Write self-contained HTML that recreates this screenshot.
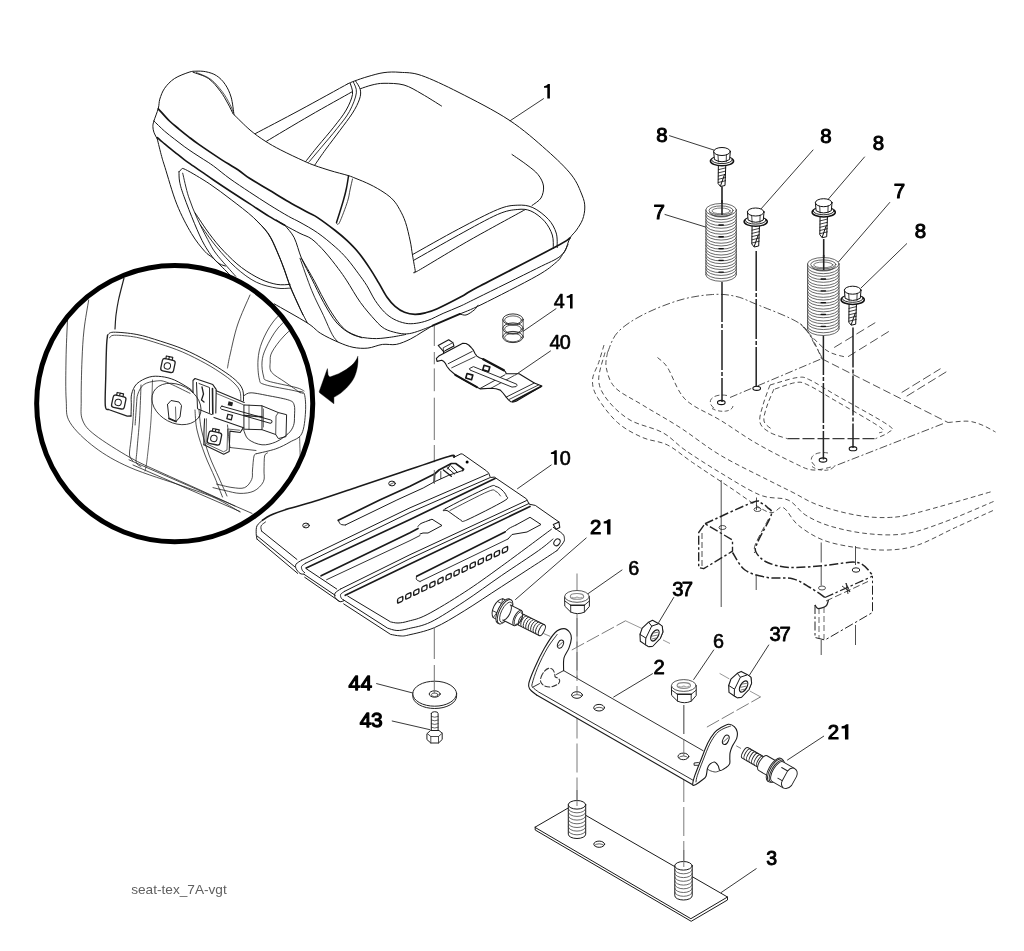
<!DOCTYPE html>
<html><head><meta charset="utf-8"><title>seat-tex_7A-vgt</title>
<style>
html,body{margin:0;padding:0;background:#fff;}
body{width:1024px;height:951px;overflow:hidden;font-family:"Liberation Sans",sans-serif;}
svg{display:block;position:absolute;left:0;top:0;filter:grayscale(1);}
svg text{font-family:"Liberation Sans",sans-serif;fill:#000;stroke:none;}
.b{font-weight:bold;}
</style></head><body>
<svg width="1024" height="951" viewBox="0 0 1024 951" fill="none" stroke="#151515" stroke-width="1" stroke-linecap="round" stroke-linejoin="round">
<g id="seat">
<path d="M157.3 139.0 C156.7 137.9 154.6 134.3 153.9 132.2 C153.2 130.1 152.9 128.3 152.9 126.4 C152.9 124.5 153.0 124.0 153.9 121.0 C154.8 118.0 157.3 112.0 158.3 108.3 C159.3 104.6 158.8 102.4 159.8 99.1 C160.9 95.8 162.2 91.7 164.6 88.3 C167.0 84.9 170.3 81.3 174.4 78.6 C178.5 75.9 185.5 73.4 189.1 72.2 C192.7 71.0 193.1 71.3 195.9 71.2 C198.7 71.1 202.3 71.0 205.7 71.7 C209.1 72.4 213.2 73.5 216.4 75.6 C219.7 77.7 222.8 80.8 225.2 84.4 C227.6 88.0 229.6 92.0 231.1 97.1 C232.6 102.1 233.5 111.8 234.0 114.7" stroke-width="1.0" />
<path d="M193.0 72.2 C195.6 73.3 204.0 75.4 208.6 78.6 C213.2 81.8 217.1 87.0 220.3 91.2 C223.6 95.4 226.0 100.2 228.1 103.9 C230.2 107.7 232.2 112.1 233.0 113.7" stroke-width="1.0" />
<path d="M196.5 72.5 C198.9 73.7 206.7 76.2 211.0 79.5 C215.3 82.8 219.3 87.8 222.5 92.0 C225.7 96.2 228.2 101.1 230.0 104.5 C231.8 107.9 232.9 111.2 233.5 112.5" stroke-width="0.7" />
<path d="M234.0 114.7 C236.7 117.2 244.8 125.6 250.0 130.0 C255.2 134.4 259.9 137.7 265.0 141.0 C270.1 144.3 274.4 146.7 280.8 150.0 C287.2 153.3 297.5 158.1 303.2 160.7 C308.9 163.3 310.5 164.0 315.0 165.6 C319.5 167.2 324.5 168.8 330.0 170.5 C335.5 172.2 343.7 174.2 348.0 175.5 C352.3 176.8 352.3 177.0 356.0 178.5 C359.7 180.0 365.3 182.2 370.0 184.5 C374.7 186.8 380.1 189.9 384.0 192.5 C387.9 195.1 390.6 197.2 393.2 200.0 C395.8 202.8 397.6 205.7 399.6 209.4 C401.7 213.1 403.7 217.0 405.5 222.3 C407.3 227.6 409.0 235.5 410.2 241.0 C411.4 246.5 411.6 250.0 412.5 255.1 C413.4 260.2 414.9 268.8 415.4 271.5" stroke-width="1.0" />
<path d="M348.5 176.0 C348.2 178.0 347.3 184.0 346.5 188.0 C345.7 192.0 345.2 194.2 343.5 200.0 C341.8 205.8 337.7 218.8 336.5 222.5" stroke-width="1.5" />
<path d="M352.5 179.0 C352.1 180.8 350.8 186.2 350.0 190.0 C349.2 193.8 349.2 196.1 347.5 201.5 C345.8 206.9 341.3 218.9 339.5 222.5 C337.7 226.1 337.0 223.1 336.5 223.2" stroke-width="0.8" />
<path d="M158.3 108.8 C160.2 110.8 166.0 117.6 169.5 121.0 C173.0 124.4 176.1 126.6 179.3 129.3 C182.6 132.0 185.8 134.6 189.0 137.1 C192.2 139.6 193.9 141.0 198.8 144.4 C203.7 147.8 211.9 153.4 218.4 157.6 C224.9 161.8 232.7 166.4 237.9 169.8 C243.1 173.2 244.3 174.9 249.5 178.3 C254.7 181.7 262.6 186.1 269.1 190.0 C275.6 193.9 282.1 198.1 288.6 201.8 C295.1 205.6 303.3 209.9 308.1 212.5 C312.9 215.1 313.1 214.6 317.6 217.6 C322.1 220.6 330.3 226.7 335.2 230.5 C340.1 234.3 343.0 236.7 346.9 240.4 C350.8 244.1 354.7 247.9 358.6 252.7 C362.5 257.5 367.0 264.1 370.3 269.1 C373.6 274.1 375.9 278.2 378.7 282.9 C381.5 287.5 384.2 293.1 386.9 297.0 C389.6 300.9 392.2 303.8 395.1 306.3 C398.0 308.8 401.2 310.9 404.5 312.2 C407.8 313.5 411.5 314.2 415.0 314.3 C418.5 314.4 421.8 313.7 425.5 312.8 C429.2 311.9 431.3 311.4 437.3 308.7 C443.3 306.0 454.7 300.1 461.5 296.5 C468.3 292.9 462.5 295.2 478.0 287.0 C493.5 278.8 539.0 255.7 554.3 247.5 C569.6 239.3 567.4 239.6 570.0 238.0" stroke-width="1.7" />
<path d="M153.9 121.0 C155.7 122.7 161.2 128.2 164.6 131.2 C168.0 134.2 171.1 136.4 174.4 139.0 C177.7 141.6 180.9 144.1 184.2 146.5 C187.4 148.9 190.7 151.0 193.9 153.2 C197.2 155.4 200.4 157.4 203.7 159.5 C207.0 161.6 209.1 162.8 213.5 166.0 C217.9 169.2 224.0 174.5 230.0 178.8 C236.0 183.1 243.0 187.7 249.5 192.0 C256.0 196.3 262.6 200.6 269.1 204.7 C275.6 208.8 283.5 213.5 288.6 216.4 C293.8 219.3 295.2 219.6 300.0 222.3 C304.8 225.0 311.7 228.7 317.6 232.8 C323.5 236.9 330.3 242.6 335.2 246.9 C340.1 251.2 343.0 254.1 346.9 258.6 C350.8 263.1 355.3 269.3 358.6 273.8 C361.9 278.3 364.0 281.1 366.8 285.5 C369.6 289.9 372.2 296.1 375.2 300.5 C378.1 304.9 381.4 309.1 384.5 312.2 C387.6 315.3 390.4 317.3 393.9 319.2 C397.4 321.1 401.9 322.6 405.6 323.3 C409.3 324.0 412.5 323.8 416.2 323.3 C419.9 322.8 423.4 322.0 427.9 320.4 C432.4 318.8 437.8 315.8 443.1 313.4 C448.5 311.0 454.2 308.9 460.0 306.3 C465.8 303.7 465.2 303.8 478.0 297.5 C490.8 291.2 523.0 275.4 536.7 268.5 C550.4 261.6 554.8 260.4 560.0 256.4 C565.2 252.4 566.7 246.6 568.0 244.7" stroke-width="1.0" />
<path d="M157.3 137.6 C158.5 138.7 161.8 141.5 164.6 143.9 C167.4 146.3 171.1 149.2 174.4 151.8 C177.7 154.4 180.9 157.2 184.2 159.6 C187.4 162.0 190.7 164.1 193.9 166.4 C197.2 168.7 200.4 170.9 203.7 173.2 C207.0 175.5 209.1 177.0 213.5 180.0 C217.9 183.0 224.0 187.1 230.0 191.0 C236.0 194.9 243.0 199.5 249.5 203.7 C256.0 207.9 263.2 212.8 269.1 216.4 C275.0 220.0 282.1 223.7 284.7 225.2" stroke-width="1.6" />
<path d="M276.5 220.0 C277.9 220.9 280.8 223.0 284.7 225.2 C288.6 227.4 295.5 231.1 300.0 233.4 C304.5 235.7 307.6 236.0 311.8 239.1 C316.0 242.2 320.6 247.1 325.0 252.0 C329.4 256.9 334.7 263.8 338.3 268.6 C341.9 273.4 343.2 275.3 346.9 280.9 C350.6 286.5 355.7 295.9 360.4 302.4 C365.1 308.9 371.1 315.7 375.1 320.1 C379.1 324.5 381.0 326.5 384.5 328.6 C388.0 330.7 392.6 331.8 396.3 332.7 C400.0 333.6 403.3 334.1 406.8 333.9 C410.3 333.7 413.0 332.9 417.3 331.5 C421.6 330.1 430.1 326.7 432.6 325.7" stroke-width="1.0" />
<path d="M255.5 133.5 C262.9 129.6 284.6 118.3 300.0 110.0 C315.4 101.7 340.0 88.1 348.0 83.7" stroke-width="1.0" />
<path d="M266.6 141.2 C273.8 136.9 295.8 123.7 310.0 115.5 C324.2 107.3 344.8 95.9 351.7 92.0" stroke-width="1.0" />
<path d="M348.0 83.7 C349.1 83.2 351.2 82.2 354.5 81.0 C357.8 79.8 363.1 77.9 368.0 76.5 C372.9 75.1 378.7 73.3 384.0 72.6 C389.3 71.9 393.8 71.8 400.0 72.3 C406.2 72.8 411.7 72.1 421.5 75.5 C431.3 78.9 444.4 85.1 459.0 92.5 C473.6 99.9 494.4 110.4 509.0 120.0 C523.6 129.6 536.1 140.8 546.5 150.0 C556.9 159.2 565.6 167.5 571.5 175.0 C577.4 182.5 579.8 189.7 582.0 195.0 C584.2 200.3 584.7 202.9 584.8 207.0 C584.9 211.1 584.0 215.7 582.6 219.5 C581.2 223.3 578.6 226.9 576.5 230.0 C574.4 233.1 571.8 234.7 570.0 238.0 C568.2 241.3 566.8 247.2 565.5 250.0 C564.2 252.8 562.6 254.2 562.0 255.0" stroke-width="1.0" />
<path d="M360.5 88.7 C362.4 88.1 368.1 85.9 372.0 85.0 C375.9 84.1 378.7 83.3 384.0 83.3 C389.3 83.3 397.7 83.2 404.0 85.0 C410.3 86.8 415.8 90.5 422.0 94.0 C428.2 97.5 438.2 104.0 441.5 106.0" stroke-width="1.0" />
<path d="M350.2 83.4 C350.6 85.2 353.2 90.0 352.5 94.4 C351.8 98.8 349.3 104.5 346.2 110.0 C343.1 115.5 338.4 121.2 333.7 127.2 C329.0 133.2 322.8 140.2 318.1 145.9 C313.4 151.6 307.7 159.0 305.6 161.6" stroke-width="1.0" />
<path d="M353.3 81.9 C353.8 83.7 357.0 87.8 356.4 92.8 C355.8 97.8 352.6 105.6 349.4 111.6 C346.1 117.6 341.6 122.7 336.9 128.7 C332.2 134.7 325.9 141.9 321.2 147.5 C316.5 153.1 310.8 159.8 308.7 162.3" stroke-width="0.9" />
<path d="M355.6 81.1 C356.4 82.5 359.7 86.7 360.3 89.7 C360.9 92.7 360.8 95.2 359.5 99.1 C358.2 103.0 355.8 107.9 352.5 113.1 C349.2 118.3 344.4 124.3 340.0 130.3 C335.6 136.3 330.1 143.4 325.9 149.1 C321.7 154.8 316.8 162.1 315.0 164.7" stroke-width="1.0" />
<path d="M512.0 154.5 C514.5 156.2 522.7 161.7 527.0 165.0 C531.3 168.3 535.2 171.0 538.0 174.5 C540.8 178.0 543.0 182.1 543.5 186.0 C544.0 189.9 542.9 194.8 541.0 198.0 C539.1 201.2 533.5 204.2 532.0 205.5" stroke-width="1.0" />
<path d="M412.7 254.5 C420.4 250.2 444.4 236.5 458.6 229.0 C472.8 221.5 487.9 213.5 497.7 209.5 C507.5 205.5 511.4 205.5 517.2 205.2 C523.1 204.9 527.6 205.2 532.8 207.6 C538.0 209.9 544.5 215.1 548.4 219.3 C552.3 223.5 554.7 228.3 556.2 233.0 C557.7 237.7 557.0 245.2 557.2 247.6" stroke-width="1.0" />
<path d="M413.7 260.3 C421.2 256.1 444.6 242.7 458.6 235.0 C472.6 227.3 487.9 218.7 497.7 214.4 C507.5 210.2 511.7 210.1 517.2 209.5 C522.7 208.9 526.4 209.1 530.9 211.0 C535.4 212.9 540.9 217.2 544.5 221.2 C548.1 225.2 550.8 230.4 552.3 235.0 C553.8 239.6 553.1 246.3 553.3 248.6" stroke-width="1.0" />
<path d="M415.6 271.0 C416.1 270.9 409.4 275.7 418.5 270.5 C427.6 265.3 452.2 250.1 470.0 240.0 C487.8 229.9 515.8 214.8 525.0 209.7" stroke-width="1.0" />
<path d="M274.3 303.9 C279.8 307.1 299.7 318.1 307.4 323.0 C315.1 327.9 315.5 330.2 320.7 333.4 C325.9 336.6 332.9 339.9 338.3 342.2 C343.7 344.5 348.1 346.3 353.0 347.3 C357.9 348.3 362.9 348.6 367.8 348.1 C372.7 347.6 377.8 345.0 382.5 344.4 C387.2 343.8 391.7 345.3 396.3 344.4 C400.9 343.5 406.0 341.2 410.3 339.1 C414.6 337.1 418.3 334.3 422.0 332.1 C425.7 329.9 430.8 326.8 432.6 325.7" stroke-width="1.0" />
<path d="M460.0 313.9 C461.0 314.1 463.6 315.6 466.0 315.0 C468.4 314.4 472.2 311.6 474.2 310.0 C476.2 308.4 477.4 306.0 478.0 305.2" stroke-width="1.0" />
<path d="M432.6 325.7 L460.0 313.9" stroke-width="1.8" />
<path d="M460.0 313.9 C463.7 312.3 469.2 310.6 482.0 304.3 C494.8 298.0 524.3 283.0 536.7 276.0 C549.1 269.0 552.0 265.7 556.2 262.3 C560.4 258.9 561.0 256.6 562.0 255.4" stroke-width="1.0" />
<path d="M285.3 225.9 C286.8 227.9 291.5 232.3 294.2 237.7 C296.9 243.1 298.6 251.4 301.5 258.3 C304.4 265.2 308.1 271.5 311.8 278.9 C315.5 286.2 319.4 295.0 323.6 302.4 C327.8 309.8 332.0 317.6 336.9 323.0 C341.8 328.4 347.1 332.2 353.0 334.8 C358.9 337.4 366.2 338.1 372.2 338.5 C378.2 338.9 383.6 338.1 389.2 337.4 C394.8 336.7 402.9 335.0 405.6 334.5" stroke-width="1.0" />
<path d="M255.9 220.0 C258.1 222.4 265.2 228.6 269.1 234.7 C273.0 240.8 276.0 248.5 279.4 256.8 C282.8 265.2 286.3 276.2 289.7 284.8 C293.1 293.4 297.1 301.9 300.0 308.3 C302.9 314.7 306.2 320.6 307.4 323.0" stroke-width="1.0" />
<path d="M301.5 258.3 C303.7 262.2 310.4 273.7 314.8 281.8 C319.2 289.9 323.1 299.0 328.0 306.9 C332.9 314.8 338.6 323.8 344.2 328.9 C349.8 334.0 358.9 336.3 361.9 337.8" stroke-width="1.0" />
<path d="M300.0 258.3 C302.0 263.7 307.9 281.1 311.8 290.7 C315.7 300.3 320.2 308.3 323.6 315.7 C327.0 323.1 329.9 330.4 332.4 334.8 C334.8 339.2 337.3 341.0 338.3 342.2" stroke-width="0.9" />
<path d="M179.0 171.8 C179.4 171.4 180.1 170.0 181.2 169.6 C182.3 169.2 180.9 167.3 185.6 169.6 C190.3 171.9 201.6 178.6 209.2 183.6 C216.8 188.6 223.8 194.1 231.2 199.7 C238.5 205.3 247.2 211.8 253.3 217.4 C259.4 223.1 264.1 227.9 268.0 233.6 C271.9 239.2 274.2 245.4 276.9 251.3 C279.6 257.2 282.0 263.0 284.2 268.9 C286.4 274.8 288.1 281.4 290.1 286.6 C292.1 291.8 293.9 295.3 296.0 300.0 C298.1 304.7 301.8 312.5 303.0 315.0" stroke-width="1.0" />
<path d="M195.2 213.0 C197.5 216.4 204.4 227.2 209.2 233.6 C214.0 240.0 218.5 245.7 223.9 251.3 C229.3 256.9 235.4 262.9 241.5 267.5 C247.6 272.1 254.8 276.4 260.7 279.2 C266.6 282.0 272.0 283.5 276.9 284.4 C281.8 285.3 287.9 284.4 290.1 284.4" stroke-width="1.0" />
<path d="M200.3 224.8 C203.0 228.5 210.6 239.8 216.5 246.9 C222.4 254.0 229.1 261.6 235.7 267.5 C242.3 273.4 249.4 278.8 256.3 282.2 C263.2 285.6 271.3 287.1 276.9 288.1 C282.5 289.1 287.9 288.1 290.1 288.1" stroke-width="0.9" />
<path d="M179.0 171.8 C179.1 173.5 178.8 177.9 179.7 182.1 C180.5 186.3 181.6 189.9 184.1 196.8 C186.6 203.7 191.0 215.2 194.4 223.3 C197.8 231.4 201.0 239.0 204.7 245.4 C208.4 251.8 213.1 258.2 216.5 261.6 C219.9 265.0 223.9 265.3 225.4 266.0" stroke-width="1.0" />
<path d="M182.7 173.2 C183.7 177.1 186.1 189.2 188.6 196.8 C191.1 204.4 194.2 211.8 197.4 218.9 C200.6 226.0 204.5 233.6 207.7 239.5 C210.9 245.4 211.8 248.1 216.5 254.2 C221.2 260.3 232.5 272.6 235.7 276.3" stroke-width="0.9" />
<path d="M157.3 139.0 C158.0 141.9 160.4 151.9 161.7 156.6 C163.0 161.3 162.5 159.5 165.0 167.4 C167.5 175.3 172.4 193.2 176.8 204.2 C181.2 215.2 186.8 225.8 191.5 233.6 C196.2 241.4 201.0 247.1 204.7 251.3 C208.4 255.5 209.4 254.7 213.6 258.6 C217.8 262.6 227.3 272.3 230.0 275.0" stroke-width="1.0" />
</g>
<defs><clipPath id="cc"><circle cx="174.7" cy="403.6" r="136.5"/></clipPath></defs>
<circle cx="174.7" cy="403.6" r="138" fill="#fff" stroke="none"/>
<g id="circ" clip-path="url(#cc)" stroke="#222" stroke-width="0.9">
<path d="M88.7 300.0 C87.9 305.0 85.1 320.0 84.0 330.0 C82.9 340.0 82.5 348.3 82.0 360.0 C81.5 371.7 81.1 390.0 81.2 400.0 C81.3 410.0 80.2 414.2 82.5 420.0 C84.8 425.8 87.1 428.8 95.0 435.0 C102.9 441.2 119.2 451.3 130.0 457.5 C140.8 463.7 148.3 466.6 160.0 472.0 C171.7 477.4 187.5 484.3 200.0 490.0 C212.5 495.7 229.2 503.3 235.0 506.0" stroke-width="0.8" />
<path d="M67.5 320.0 C67.2 326.7 66.2 346.7 66.0 360.0 C65.8 373.3 65.5 389.6 66.2 400.0 C66.9 410.4 65.2 414.6 70.0 422.5 C74.8 430.4 85.0 440.0 95.0 447.5 C105.0 455.0 115.4 461.1 130.0 467.5 C144.6 473.9 168.3 480.9 182.5 486.0 C196.7 491.1 205.4 493.7 215.0 498.0 C224.6 502.3 235.8 509.7 240.0 512.0" stroke-width="0.8" />
<path d="M124.0 278.0 C123.1 281.7 119.8 293.8 118.5 300.0 C117.2 306.2 116.6 310.2 116.0 315.0 C115.4 319.8 115.2 326.7 115.0 329.0" stroke-width="1.2" />
<path d="M250.0 295.0 C247.9 300.0 240.8 315.0 237.5 325.0 C234.2 335.0 231.7 347.8 230.0 355.0 C228.3 362.2 227.9 365.8 227.5 368.0" stroke-width="0.8" />
<path d="M290.0 305.0 C287.2 307.8 277.7 315.8 273.0 322.0 C268.3 328.2 264.5 335.7 262.0 342.0 C259.5 348.3 258.4 353.8 258.0 360.0 C257.6 366.2 258.2 374.9 259.3 379.0 C260.4 383.1 258.9 382.6 264.8 384.6 C270.7 386.6 288.4 389.3 294.8 390.8 C301.2 392.3 301.6 393.1 303.0 393.5" stroke-width="0.8" />
<path d="M296.0 312.0 C293.0 314.7 283.0 322.0 278.0 328.0 C273.0 334.0 268.7 342.3 266.0 348.0 C263.3 353.7 262.4 357.3 262.0 362.0 C261.6 366.7 262.5 372.8 263.5 376.0 C264.5 379.2 262.6 379.1 268.0 381.0 C273.4 382.9 290.0 385.8 296.0 387.5 C302.0 389.2 302.7 390.4 304.0 391.0" stroke-width="0.8" />
<path d="M302.0 320.0 C299.0 322.7 289.0 330.7 284.0 336.0 C279.0 341.3 274.3 347.7 272.0 352.0 C269.7 356.3 270.3 358.6 270.2 362.0 C270.1 365.4 269.1 369.0 271.6 372.3 C274.1 375.6 280.2 378.6 285.0 382.0 C289.8 385.4 297.8 391.0 300.3 392.8" stroke-width="0.8" />
<path d="M299.0 391.4 C299.9 391.9 303.3 390.8 304.4 394.2 C305.5 397.6 305.9 405.4 305.5 412.0 C305.1 418.6 304.3 428.8 301.7 433.8 C299.1 438.8 294.3 439.5 290.0 442.0 C285.7 444.5 281.3 446.9 275.7 448.9 C270.1 450.8 259.8 452.9 256.6 453.7" stroke-width="0.9" />
<path d="M244.3 395.5 C245.4 395.1 246.8 392.7 251.1 392.8 C255.4 392.9 263.6 394.8 270.0 396.0 C276.4 397.2 285.4 398.8 289.4 400.3 C293.4 401.8 293.3 402.5 294.2 405.1 C295.1 407.7 294.6 412.6 294.5 416.0 C294.4 419.4 294.6 422.6 293.5 425.6 C292.4 428.6 291.0 431.1 288.0 433.8 C285.0 436.5 280.0 440.2 275.7 442.0 C271.4 443.8 266.6 445.2 262.0 444.8 C257.4 444.4 251.5 441.8 248.4 439.3 C245.3 436.8 244.4 431.3 243.6 429.7" stroke-width="0.9" />
<path d="M256.6 453.7 C256.2 454.1 254.7 453.3 254.0 456.0 C253.3 458.7 252.9 466.1 252.5 470.0 C252.1 473.9 253.0 476.5 251.7 479.4 C250.4 482.3 248.0 486.2 244.7 487.6 C241.4 489.0 236.7 488.1 232.0 487.5 C227.3 486.9 219.1 484.6 216.5 484.0" stroke-width="0.8" />
<path d="M267.5 453.0 C267.0 453.5 265.2 453.2 264.6 456.0 C264.0 458.8 264.2 465.7 264.0 470.0 C263.8 474.3 265.1 478.2 263.4 481.7 C261.7 485.2 257.9 489.1 254.0 491.0 C250.1 492.9 244.8 493.5 240.0 493.4 C235.2 493.3 229.5 491.5 225.0 490.5 C220.5 489.5 215.0 488.1 213.0 487.6" stroke-width="0.8" />
<path d="M299.6 436.6 C299.7 441.2 300.2 455.1 300.3 464.0 C300.4 472.9 300.1 485.7 300.0 490.0" stroke-width="0.7" />
<path d="M227.5 425.0 C227.8 427.5 228.6 436.2 229.0 440.0 C229.4 443.8 229.8 446.2 230.0 447.5" stroke-width="0.8" />
<path d="M230.0 447.5 L256.0 450.5" stroke-width="0.8" />
<path d="M107.6 335.2 C108.6 334.7 108.5 332.3 113.4 332.2 C118.3 332.1 129.1 333.0 136.9 334.5 C144.7 336.0 152.5 338.6 160.3 341.1 C168.1 343.6 175.9 346.0 183.7 349.3 C191.5 352.6 200.2 357.1 207.2 361.0 C214.2 364.9 220.8 369.2 225.9 372.7 C231.0 376.2 234.8 379.2 237.6 382.1 C240.4 385.0 241.8 387.2 242.8 390.3 C243.8 393.4 243.4 399.1 243.5 400.9" stroke-width="1.0" />
<path d="M109.5 338.0 C110.3 337.5 110.0 335.3 114.5 335.2 C119.0 335.1 129.0 335.9 136.5 337.3 C144.0 338.7 151.8 341.4 159.5 343.8 C167.2 346.2 174.8 348.7 182.5 352.0 C190.2 355.3 198.9 359.8 205.8 363.6 C212.7 367.4 219.1 371.6 224.0 375.0 C228.9 378.4 232.3 381.2 235.0 384.0 C237.7 386.8 239.0 388.8 240.0 391.5 C241.0 394.2 240.7 398.6 240.8 400.0" stroke-width="0.8" />
<path d="M107.6 335.2 C107.4 336.8 106.9 338.4 106.6 345.0 C106.3 351.6 106.0 364.9 105.8 375.0 C105.6 385.1 104.8 399.9 105.3 405.6 C105.8 411.4 108.0 408.9 108.5 409.5" stroke-width="1.4" />
<path d="M108.5 409.5 L127.2 416.2 L131.0 416.0" stroke-width="1.3" />
<path d="M131.0 416.0 C131.1 414.2 131.2 408.6 131.3 405.0 C131.4 401.4 130.7 397.8 131.6 394.2 C132.5 390.6 134.0 386.5 136.9 383.7 C139.8 380.9 145.1 378.3 149.2 377.1 C153.3 375.9 157.2 376.1 161.5 376.6 C165.8 377.1 169.9 378.1 174.7 380.1 C179.4 382.2 186.9 386.8 190.0 388.9 C193.1 391.0 192.6 392.1 193.1 392.7" stroke-width="1.0" />
<path d="M135.1 425.0 C135.3 421.7 136.1 410.1 136.5 405.0 C136.9 399.9 136.6 397.6 137.8 394.2 C139.0 390.8 140.8 386.7 143.9 384.5 C147.0 382.3 152.4 381.4 156.2 381.0 C160.0 380.6 161.2 380.2 166.8 382.3 C172.4 384.4 186.1 391.5 190.0 393.3" stroke-width="0.8" />
<path d="M134.5 390.0 C134.2 395.0 133.6 411.7 133.0 420.0 C132.4 428.3 131.6 434.2 131.0 440.0 C130.4 445.8 129.2 451.5 129.5 455.0 C129.8 458.5 132.4 460.0 133.0 461.0" stroke-width="0.8" />
<path d="M141.0 385.0 C140.8 390.8 140.2 409.2 139.5 420.0 C138.8 430.8 137.5 442.9 137.0 450.0 C136.5 457.1 135.6 459.8 136.3 462.5 C137.0 465.2 140.2 465.8 141.0 466.5" stroke-width="0.8" />
<path d="M152.5 380.0 C152.2 386.7 151.9 406.7 151.0 420.0 C150.1 433.3 148.0 451.5 147.0 460.0 C146.0 468.5 145.3 469.2 145.0 471.0" stroke-width="0.7" />
<path d="M129.0 459.8 L252.0 513.4" stroke-width="0.8" />
<path d="M133.0 465.0 L240.0 511.5" stroke-width="0.8" />
<path d="M195.0 410.0 C195.3 413.3 195.3 422.5 197.0 430.0 C198.7 437.5 202.0 447.0 205.0 455.0 C208.0 463.0 212.1 471.0 215.0 478.0 C217.9 485.0 221.2 493.8 222.5 497.0" stroke-width="0.8" />
<path d="M199.0 410.0 C199.4 413.3 199.8 422.5 201.5 430.0 C203.2 437.5 206.1 447.0 209.0 455.0 C211.9 463.0 216.0 471.2 219.0 478.0 C222.0 484.8 225.7 493.0 227.0 496.0" stroke-width="0.8" />
<ellipse cx="176.5" cy="404" rx="26" ry="19" transform="rotate(28 176.5 404)" stroke-width="0.8"/>
<path d="M167.5 404.5 L171.0 400.5 L179.0 402.0 L181.5 405.5 L180.0 417.0 L176.0 421.5 L169.0 418.5 L167.5 404.5" stroke-width="1.0" />
<path d="M169.0 418.5 L176.0 421.5" stroke-width="1.8" />
<path d="M175.5 407.0 L176.0 421.5" stroke-width="0.7" />
<path d="M193.0 392.5 L193.0 380.5 L195.0 378.5 L212.8 384.6 L216.2 389.4 L215.8 413.0" stroke-width="1.1" />
<path d="M196.5 382.5 L197.5 408.8 L211.5 414.5" stroke-width="1.0" />
<path d="M199.0 383.5 L209.5 387.5 L209.5 412.5" stroke-width="0.9" />
<path d="M212.5 388.5 L212.8 414.0" stroke-width="1.6" />
<path d="M202.0 387.0 L203.5 394.0 L201.5 400.0 L204.0 402.0" stroke-width="1.3" />
<path d="M216.2 390.8 L244.3 402.4" stroke-width="1.1" />
<path d="M214.0 417.4 L243.6 427.7" stroke-width="1.1" />
<path d="M216.5 393.5 L244.0 405.0" stroke-width="0.7" />
<path d="M222 406.2 L270.8 420 A1.6 1.6 0 0 1 270 423.2 L221.4 409.2 A1.6 1.6 0 0 1 222 406.2 Z" stroke-width="1.0" />
<rect x="228" y="401.7" width="4.6" height="4" fill="#222" stroke="none" transform="rotate(14 230 404)"/>
<rect x="227.3" y="414.6" width="4.6" height="4.6" fill="none" stroke-width="1.3" transform="rotate(14 229 417)"/>
<path d="M244.3 405.0 L262.0 405.8 L262.0 429.7 L244.3 429.2 Z" stroke-width="1.0" />
<path d="M249.0 405.2 L249.0 429.3" stroke-width="0.7" />
<path d="M244.3 415.5 L262.0 416.8" stroke-width="1.4" />
<path d="M262.0 405.8 L278.4 412.6 L286.6 414.7 L286.0 436.6 L278.4 438.6 L275.7 434.5 L262.0 429.7" stroke-width="1.0" />
<path d="M278.4 412.6 L276.0 416.0 L275.7 434.5" stroke-width="0.8" />
<path d="M263.5 409.0 L263.5 427.0" stroke-width="0.6" />
<path d="M204.6 418.8 C204.5 421.0 204.1 427.7 204.0 432.0 C203.9 436.3 203.9 442.7 203.9 444.8" stroke-width="1.1" />
<path d="M203.9 444.8 L223.7 454.3 L229.2 451.6 L229.9 431.1 L240.2 432.5 L242.9 428.4" stroke-width="1.1" />
<path d="M206.5 418.8 L206.0 443.5 L223.5 451.8 L227.0 450.0 L227.7 429.0 L239.5 430.2" stroke-width="0.7" />
<g transform="translate(168 365.3) rotate(12)"><rect x="-6.5" y="-6" width="13" height="12.5" rx="2.5" stroke-width="1.3"/><circle cx="-0.5" cy="0.8" r="3.2" stroke-width="1"/><path d="M-3.5 -6 V-8.8 H3 V-6 M-0.5 -8.8 V-6.5" stroke-width="1.2"/></g>
<g transform="translate(118.8 401.8) rotate(12)"><rect x="-6.5" y="-6" width="13" height="12.5" rx="2.5" stroke-width="1.3"/><circle cx="-0.5" cy="0.8" r="3.2" stroke-width="1"/><path d="M-3.5 -6 V-8.8 H3 V-6 M-0.5 -8.8 V-6.5" stroke-width="1.2"/></g>
<g transform="translate(214.5 437.8) rotate(12)"><rect x="-6.5" y="-6" width="13" height="12.5" rx="2.5" stroke-width="1.3"/><circle cx="-0.5" cy="0.8" r="3.2" stroke-width="1"/><path d="M-3.5 -6 V-8.8 H3 V-6 M-0.5 -8.8 V-6.5" stroke-width="1.2"/></g>
</g>
<circle cx="174.7" cy="403.6" r="138.05" fill="none" stroke="#000" stroke-width="5"/>
<path d="M357.8 356.6 C355.5 363 350 368 338.7 373.7 L329.8 377.1 L328.1 375.1 L327.4 368.6 L319.2 391.5 L319.6 392.8 L333.9 403.8 L333.9 397.3 C343 393 351.5 383.5 354.4 377.1 C357 371 358.6 363.5 357.8 356.6 Z" fill="#000" stroke="#000" stroke-width="0.4"/>
<path d="M434.3 326 V346 M434.3 352 V364.3 M434.3 368.4 V391.2 M434.3 397.7 V440 M434.3 445 V470" stroke="#6c6c6c" stroke-width="0.95" stroke-linecap="butt"/>
<g stroke="#333" stroke-width="1">
<ellipse cx="513" cy="319.5" rx="10.2" ry="5.6"/>
<ellipse cx="513" cy="320.1" rx="8.4" ry="4.2" stroke-width="0.8"/>
<ellipse cx="513" cy="328.5" rx="10.2" ry="5.6"/>
<ellipse cx="513" cy="329.1" rx="8.4" ry="4.2" stroke-width="0.8"/>
<ellipse cx="513" cy="337" rx="10.2" ry="5.6"/>
<ellipse cx="513" cy="337.6" rx="8.4" ry="4.2" stroke-width="0.8"/>
<path d="M502.8 319.5 V337 M523.2 319.5 V337" stroke-width="0.8"/>
</g>
<g id="clip40" stroke="#151515" stroke-width="1" fill="#fff">
<path d="M438.2 345.5 L448.7 339.7 L452.9 342.6 L454.0 346.1 L443.5 351.4 Z" stroke-width="1.1" />
<path d="M443.5 351.4 L443.2 347.8 L452.9 342.6" stroke-width="0.8" />
<path d="M443.5 351.4 L444.0 355.0" stroke-width="1.2" />
<path d="M436.4 358.4 L438.8 356.1 L462.8 343.2 L466.0 343.5 L468.7 345.0 L471.2 347.5 L473.4 350.2 L475.0 353.5 L476.9 356.1 L479.5 357.8 L482.7 359.0 L503.8 370.2 L505.5 371.8 L506.2 373.7 L519.1 373.7 L534.3 383.0 L541.9 386.0 L516.1 401.2 L513.5 402.0 L510.9 401.8 L508.5 399.8 L506.2 397.1 L503.0 393.0 L500.3 390.1 L496.0 388.8 L490.9 388.3 L480.4 388.9 L462.8 379.5 L455.0 374.5 L449.9 370.2 L447.0 366.5 L445.2 363.1 L443.5 361.2 L441.7 360.2 L437.0 361.4 Z" stroke-width="1.1" />
<path d="M448.2 363.7 L472.2 351.4" stroke-width="0.9" />
<path d="M451.7 367.8 L475.1 356.7" stroke-width="0.8" />
<path d="M480.4 388.3 L505.0 374.8" stroke-width="0.9" />
<path d="M490.9 388.3 L514.4 375.4" stroke-width="0.8" />
<path d="M506.2 397.1 L534.3 383.0" stroke-width="0.9" />
<path d="M509.0 399.5 L538.5 385.0" stroke-width="0.8" />
<path d="M512.5 401.5 L541.0 386.5" stroke-width="1.7" />
<path d="M483.3 359.3 L503.8 370.2" stroke-width="2.4" />
<path d="M455.2 374.8 L476.9 387.1" stroke-width="2.0" />
<path d="M469.8 368.4 L473.4 366.6 L516.7 384.2 Q517.5 386 516.1 386.6 L512 387.1 L470.4 370.2 Z" stroke-width="0.9" />
<rect x="-3" y="-2.4" width="6" height="4.8" transform="translate(486.3 368.4) rotate(16)" stroke-width="1.6"/>
<rect x="-3" y="-2.4" width="6" height="4.8" transform="translate(469.3 376.6) rotate(16)" stroke-width="1.6"/>
</g>
<path d="M256.5 537 L256.3 530 L263 521 L300.5 503.5 L351 490 L451 456.7 L461.5 454 L487.9 471.6 L495 477.8 L526.5 498.9 L535.3 505.4 L559 521.7 L564.4 538.4 L563.5 542.3 L557 550.6 L501.3 586.8 L464.2 610.9 L434.5 627.6 L408.6 635 L400 635.9 L390.6 634.4 L343.7 603.9 Z" fill="#fff" stroke="none"/>
<g id="plate10" stroke="#1a1a1a" stroke-width="1">
<path d="M257.0 539.1 C256.9 538.2 256.2 535.8 256.2 533.6 C256.2 531.4 255.9 528.0 257.0 525.8 C258.1 523.6 261.6 521.2 262.5 520.3" stroke-width="1.0" />
<path d="M262.5 520.3 C263.8 519.5 265.6 517.5 270.0 515.5 C274.4 513.5 280.9 511.2 289.0 508.6 C297.1 506.0 307.3 503.6 318.7 500.0 C330.1 496.4 343.9 491.6 357.5 487.0 C371.1 482.4 384.8 477.8 400.0 472.7 C415.2 467.6 439.7 459.0 448.7 456.4 C457.7 453.8 453.1 457.1 454.0 457.3" stroke-width="1.6" />
<path d="M454.0 457.3 L461.0 453.8 L462.7 454.2 L486.5 470.9 L488.7 473.1 L490.4 477.5 L494.4 477.1 L526.5 498.9 L529.2 504.2 L535.3 505.4 L558.9 521.9" stroke-width="1.0" />
<path d="M553.3 524.6 L558.9 521.9 L559.8 527.4 L556.0 529.3 L553.3 524.6" stroke-width="1.1" />
<path d="M553.3 527.4 C554.8 528.5 560.8 532.0 562.6 533.9 C564.5 535.8 564.2 537.2 564.4 538.6 C564.5 540.0 564.7 540.3 563.5 542.3 C562.3 544.3 558.1 549.2 557.0 550.6" stroke-width="1.0" />
<ellipse cx="557" cy="542.3" rx="2.8" ry="3.7" transform="rotate(35 557 542.3)"/>
<path d="M347.7 596.1 L390.6 621.9 L390.6 621.9 C391.8 622.1 395.0 623.1 398.0 623.0 C401.0 622.9 403.8 622.5 408.6 621.1 C413.5 619.7 417.8 619.4 427.1 614.6 C436.4 609.8 451.8 600.4 464.2 592.4 C476.6 584.4 486.8 576.9 501.3 566.4 C515.8 555.9 543.0 535.5 551.4 529.3" stroke-width="1.0" />
<path d="M343.7 600.0 L387.5 628.1 L387.5 628.1 C389.1 628.5 393.4 630.4 396.9 630.5 C400.4 630.6 403.0 630.0 408.6 628.6 C414.2 627.2 421.5 626.5 430.8 622.0 C440.1 617.5 452.4 609.3 464.2 601.6 C475.9 593.9 488.9 584.2 501.3 575.7 C513.7 567.2 529.9 556.7 538.5 550.6 C547.1 544.5 550.6 540.9 553.0 539.0" stroke-width="1.0" />
<path d="M343.7 603.9 L390.6 634.4 L390.6 634.4 C392.2 634.6 397.0 635.8 400.0 635.9 C403.0 636.0 402.9 636.4 408.6 635.0 C414.4 633.6 425.2 631.6 434.5 627.6 C443.8 623.6 453.1 617.7 464.2 610.9 C475.3 604.1 488.9 594.8 501.3 586.8 C513.7 578.8 529.2 568.7 538.5 562.7 C547.8 556.7 553.9 552.6 557.0 550.6" stroke-width="1.0" />
<path d="M261.7 531.2 L296.9 559.4" stroke-width="1.0" />
<path d="M257.0 535.9 L295.3 567.2" stroke-width="1.0" />
<path d="M257.0 539.1 L297.7 573.4" stroke-width="1.0" />
<path d="M261.7 531.2 C261.6 530.7 260.9 529.0 260.9 528.0 C260.9 527.0 260.9 526.0 261.7 525.0 C262.5 524.0 264.9 522.5 265.5 522.0" stroke-width="0.9" />
<path d="M301.6 560.2 C300.7 560.9 297.0 562.7 296.1 564.1 C295.2 565.5 295.5 567.2 296.1 568.7 C296.8 570.2 298.7 572.5 300.0 573.4 C301.3 574.3 303.2 574.1 303.9 574.2" stroke-width="1.0" />
<path d="M305.5 563.3 C304.9 563.8 302.1 565.2 301.6 566.4 C301.1 567.6 301.8 569.2 302.3 570.3 C302.8 571.3 304.3 572.3 304.7 572.7" stroke-width="1.0" />
<path d="M301.6 560.2 L410.0 507.8 L488.0 474.0" stroke-width="1.0" />
<path d="M305.5 563.3 L410.0 512.5 L489.6 477.8" stroke-width="1.0" />
<path d="M306.2 568.0 L410.0 519.5 L495.0 478.5" stroke-width="1.7" />
<path d="M306.2 568.7 L336.7 589.0" stroke-width="1.0" />
<path d="M303.9 574.2 L335.2 595.3" stroke-width="1.0" />
<path d="M304.7 577.3 L339.8 601.6" stroke-width="1.0" />
<path d="M340.6 589.0 C339.7 589.7 336.1 591.5 335.2 593.0 C334.3 594.5 334.4 596.3 335.2 597.7 C336.0 599.1 338.4 601.1 339.8 601.6 C341.2 602.1 343.1 600.9 343.7 600.8" stroke-width="1.0" />
<path d="M344.5 591.4 C343.9 591.9 341.1 593.3 340.6 594.5 C340.1 595.7 340.9 597.5 341.4 598.4 C341.9 599.3 343.3 599.7 343.7 600.0" stroke-width="1.0" />
<path d="M340.6 589.0 L410.0 554.7 L526.5 500.6" stroke-width="1.0" />
<path d="M344.5 591.4 L410.0 558.6 L529.0 503.5" stroke-width="1.0" />
<path d="M345.3 595.3 L410.0 564.0 L530.0 506.5" stroke-width="1.7" />
<path d="M338.3 520.3 L379.7 500.0 L410.0 486.3 L434.4 474.0" stroke-width="1.7" />
<path d="M338.3 520.3 C338.7 520.9 339.4 523.4 340.6 524.2 C341.8 525.0 344.5 524.9 345.3 525.0" stroke-width="1.0" />
<path d="M345.3 525.0 L396.9 500.0 L410.0 494.0 L423.2 488.0 L434.2 481.9" stroke-width="1.0" />
<path d="M434.2 481.9 L434.6 474.0 L439.0 470.0 L451.3 463.5 L455.7 463.5 L463.6 469.2 L462.7 470.5" stroke-width="1.7" />
<path d="M434.2 481.9 L448.7 475.3 L462.7 470.5" stroke-width="1.0" />
<path d="M443.4 470.0 L451.3 476.2" stroke-width="1.4" />
<path d="M447.0 467.5 L454.5 474.0" stroke-width="1.0" />
<path d="M451.3 466.0 L457.5 472.5" stroke-width="1.0" />
<path d="M440.8 471.5 L440.8 478.5" stroke-width="0.8" />
<path d="M451.3 463.5 L447.5 469.0" stroke-width="1.0" />
<circle cx="467.1" cy="462.1" r="1.5" fill="#000" stroke="none"/>
<ellipse cx="306" cy="525.5" rx="3.3" ry="2.4"/><ellipse cx="392" cy="483.5" rx="3.3" ry="2.4"/>
<path d="M304 526.5 L308 524.5 M390 484.5 L394 482.5" stroke-width="0.7"/>
<path d="M321.1 575.8 L410.0 532.8 L418.0 528.5" stroke-width="1.7" />
<path d="M326.6 579.7 L410.0 540.6 L420.0 535.5" stroke-width="0.9" />
<path d="M418.0 526.5 C418.5 526.0 419.1 524.5 421.0 523.5 C422.9 522.5 428.1 520.8 429.5 520.2" stroke-width="1.0" />
<path d="M429.5 520.2 L432.0 519.2 L442.0 525.5 L428.0 533.0 L423.0 533.0 L420.0 534.0" stroke-width="1.0" />
<path d="M445.7 508.6 C452.3 504.7 479.5 491.2 487.9 487.5 C496.3 483.8 493.6 486.1 496.0 486.5 C498.4 486.9 500.3 488.4 502.0 490.0 C503.7 491.6 506.0 494.2 506.3 496.0 C506.6 497.8 510.6 497.0 504.0 501.0 C497.4 505.0 474.0 516.8 466.8 520.0 C459.6 523.2 462.5 520.3 461.0 520.0 C459.5 519.7 460.2 519.7 458.0 518.2 C455.8 516.7 450.1 512.6 448.0 511.0 C445.9 509.4 439.1 512.5 445.7 508.6 Z" stroke-width="1.0" />
<path d="M450.0 510.5 C456.3 507.3 480.3 494.7 488.0 491.5 C495.7 488.3 493.9 490.8 496.0 491.5 C498.1 492.2 499.8 495.2 500.5 496.0" stroke-width="0.8" />
<path d="M416.7 576.2 L505.0 532.0" stroke-width="1.7" />
<path d="M416.7 576.2 C416.7 576.8 415.9 578.6 416.5 579.5 C417.1 580.4 419.4 581.2 420.0 581.5" stroke-width="1.0" />
<path d="M420.0 581.5 L508.0 539.0" stroke-width="0.9" />
<path d="M505.0 532.0 C505.7 531.4 507.2 529.7 509.0 528.5 C510.8 527.3 514.8 525.6 516.0 525.0" stroke-width="1.0" />
<path d="M516.0 525.0 L530.0 517.3 L541.0 524.5 L527.0 532.0 L512.0 534.5 L508.0 539.0" stroke-width="1.0" />
<rect x="-2.6" y="-2.3" width="5.2" height="4.6" rx="1.2" transform="translate(400.2 599.8) skewY(-25)" stroke-width="1.4"/>
<rect x="-2.6" y="-2.3" width="5.2" height="4.6" rx="1.2" transform="translate(408.3 595.9) skewY(-25)" stroke-width="1.4"/>
<rect x="-2.6" y="-2.3" width="5.2" height="4.6" rx="1.2" transform="translate(416.3 592.1) skewY(-25)" stroke-width="1.4"/>
<rect x="-2.6" y="-2.3" width="5.2" height="4.6" rx="1.2" transform="translate(424.4 588.2) skewY(-25)" stroke-width="1.4"/>
<rect x="-2.6" y="-2.3" width="5.2" height="4.6" rx="1.2" transform="translate(432.4 584.4) skewY(-25)" stroke-width="1.4"/>
<rect x="-2.6" y="-2.3" width="5.2" height="4.6" rx="1.2" transform="translate(440.5 580.5) skewY(-25)" stroke-width="1.4"/>
<rect x="-2.6" y="-2.3" width="5.2" height="4.6" rx="1.2" transform="translate(448.6 576.7) skewY(-25)" stroke-width="1.4"/>
<rect x="-2.6" y="-2.3" width="5.2" height="4.6" rx="1.2" transform="translate(456.6 572.8) skewY(-25)" stroke-width="1.4"/>
<rect x="-2.6" y="-2.3" width="5.2" height="4.6" rx="1.2" transform="translate(464.7 569.0) skewY(-25)" stroke-width="1.4"/>
<rect x="-2.6" y="-2.3" width="5.2" height="4.6" rx="1.2" transform="translate(472.7 565.1) skewY(-25)" stroke-width="1.4"/>
<rect x="-2.6" y="-2.3" width="5.2" height="4.6" rx="1.2" transform="translate(480.8 561.3) skewY(-25)" stroke-width="1.4"/>
<rect x="-2.6" y="-2.3" width="5.2" height="4.6" rx="1.2" transform="translate(488.9 557.4) skewY(-25)" stroke-width="1.4"/>
<rect x="-2.6" y="-2.3" width="5.2" height="4.6" rx="1.2" transform="translate(496.9 553.6) skewY(-25)" stroke-width="1.4"/>
<rect x="-2.6" y="-2.3" width="5.2" height="4.6" rx="1.2" transform="translate(505.0 549.8) skewY(-25)" stroke-width="1.4"/>
</g>
<path d="M434.3 470 V484" stroke="#6c6c6c" stroke-width="0.95" stroke-linecap="butt"/>
<g stroke="#222" stroke-width="1" fill="#fff">
<path d="M412.8 693.7 V696 A21.9 12.5 0 0 0 456.6 696 V693.7"/>
<ellipse cx="434.7" cy="693.7" rx="21.9" ry="12.5"/>
<ellipse cx="434.7" cy="694" rx="5.5" ry="3.2"/>
<ellipse cx="434.7" cy="694.8" rx="3.3" ry="1.8" stroke-width="0.7"/>
<path d="M431.3 713.5 V731 H438.1 V713.5 A3.4 1.8 0 0 0 431.3 713.5 Z"/>
<path d="M431.3 716.5 Q434.7 718.1 438.1 716.5" stroke-width="0.7"/>
<path d="M431.3 720.1 Q434.7 721.7 438.1 720.1" stroke-width="0.7"/>
<path d="M431.3 723.7 Q434.7 725.3000000000001 438.1 723.7" stroke-width="0.7"/>
<path d="M431.3 727.3 Q434.7 728.9 438.1 727.3" stroke-width="0.7"/>
<path d="M427.2 733.5 L430.5 730.5 L439 730.5 L442.2 733.2 V739.5 L438.5 743 L430.8 743 L427.2 739.8 Z"/>
<path d="M427.2 733.5 L430.8 736.5 L438.5 736.5 L442.2 733.2 M430.8 736.5 V743 M438.5 736.5 V743" stroke-width="0.8"/>
</g>
<path d="M434.3 628 V659 M434.3 665 V693.5" stroke="#6c6c6c" stroke-width="0.95" stroke-linecap="butt"/>
<g id="chassis" stroke="#3c3c3c" stroke-width="0.85" stroke-linecap="butt">
<path d="M607.5 352.5 C609.2 349.2 611.7 338.8 617.5 332.5 C623.3 326.2 632.1 320.4 642.5 315.0 C652.9 309.6 668.3 303.4 680.0 300.0 C691.7 296.6 703.3 295.1 712.5 294.5 C721.7 293.9 727.9 294.7 735.0 296.2 C742.1 297.7 744.2 299.1 755.0 303.7 C765.8 308.3 790.0 316.8 800.0 323.7 C810.0 330.6 811.2 339.2 815.0 345.0 C818.8 350.8 821.2 356.4 822.5 358.7" stroke-width="0.9" stroke-dasharray="8 2.5 2 2.5"/>
<path d="M604.0 345.0 C603.1 347.9 600.6 356.7 598.7 362.5 C596.8 368.3 592.7 374.2 592.5 380.0 C592.3 385.8 593.3 390.4 597.5 397.5 C601.7 404.6 610.0 415.8 617.5 422.5 C625.0 429.2 634.2 433.8 642.5 437.5 C650.8 441.2 659.2 440.8 667.5 445.0 C675.8 449.2 682.1 455.4 692.5 462.5 C702.9 469.6 717.4 479.2 730.0 487.5 C742.6 495.8 759.2 508.7 768.0 512.0 C776.8 515.3 778.0 505.3 783.0 507.5 C788.0 509.7 791.3 519.6 798.0 525.0 C804.7 530.4 813.4 536.2 823.0 540.0 C832.6 543.8 844.7 545.8 855.5 547.5 C866.3 549.2 877.6 550.4 888.0 550.0 C898.4 549.6 906.8 548.8 918.0 545.0 C929.2 541.2 942.8 533.3 955.5 527.5 C968.2 521.7 987.8 512.9 994.2 510.0" stroke-width="0.9" stroke-dasharray="4.8 3"/>
<path d="M605.0 352.5 C604.0 357.1 598.3 372.1 598.7 380.0 C599.1 387.9 602.3 393.3 607.5 400.0 C612.7 406.7 620.8 414.6 630.0 420.0 C639.2 425.4 653.3 427.5 662.5 432.5 C671.7 437.5 675.4 443.3 685.0 450.0 C694.6 456.7 707.5 465.0 720.0 472.5 C732.5 480.0 748.7 490.4 760.0 495.0 C771.3 499.6 780.4 496.7 788.0 500.0 C795.6 503.3 798.4 510.6 805.5 515.0 C812.6 519.4 820.1 523.1 830.5 526.2 C840.9 529.3 855.5 532.5 868.0 533.7 C880.5 535.0 893.0 535.6 905.5 533.7 C918.0 531.8 928.2 527.9 943.0 522.5 C957.8 517.1 985.7 504.8 994.2 501.2" stroke-width="0.9" stroke-dasharray="4.8 3"/>
<path d="M607.5 352.5 C607.3 355.0 605.0 361.7 606.2 367.5 C607.5 373.3 609.0 381.2 615.0 387.5 C621.0 393.8 631.7 398.3 642.5 405.0 C653.3 411.7 667.1 419.2 680.0 427.5 C692.9 435.8 705.3 446.2 720.0 455.0 C734.7 463.8 755.8 473.8 768.0 480.0 C780.2 486.2 784.7 488.3 793.0 492.5 C801.3 496.7 807.6 501.2 818.0 505.0 C828.4 508.8 843.8 512.9 855.5 515.0 C867.2 517.1 877.6 517.9 888.0 517.5 C898.4 517.1 900.5 516.9 918.0 512.5 C935.5 508.1 980.5 494.8 993.0 491.2" stroke-width="0.9" stroke-dasharray="4.8 3"/>
<path d="M657.5 357.5 C659.2 359.2 663.8 361.7 667.5 367.5 C671.2 373.3 675.8 386.2 680.0 392.5 C684.2 398.8 685.8 400.4 692.5 405.0 C699.2 409.6 709.6 413.8 720.0 420.0 C730.4 426.2 742.8 435.4 755.0 442.5 C767.2 449.6 783.3 457.9 793.0 462.5 C802.7 467.1 806.1 469.4 813.0 470.0 C819.9 470.6 830.7 466.8 834.2 466.2" stroke-width="0.9" stroke-dasharray="4.8 3"/>
<path d="M730.0 397.5 L821.7 358.7" stroke-width="0.9" stroke-dasharray="8 2.5 2 2.5"/>
<path d="M821.7 358.7 L948.0 422.5" stroke-width="0.9" stroke-dasharray="8 3.5"/>
<path d="M948.0 422.5 C951.3 422.3 962.3 420.8 968.0 421.2 C973.7 421.6 977.4 423.2 982.0 425.0 C986.6 426.8 993.2 430.8 995.5 432.0" stroke-width="0.9" stroke-dasharray="4.8 3"/>
<path d="M943.0 423.7 L834.2 466.2" stroke-width="0.9" stroke-dasharray="8 2.5 2 2.5"/>
<path d="M834.2 347.5 L875.5 322.5" stroke-width="0.9" stroke-dasharray="9 4"/>
<path d="M848.0 356.7 L889.2 331.2" stroke-width="0.9" stroke-dasharray="9 4"/>
<path d="M901.7 392.5 L940.5 368.7" stroke-width="0.9" stroke-dasharray="9 3.5"/>
<path d="M906.7 396.2 L949.2 370.0" stroke-width="0.9" stroke-dasharray="9 3.5"/>
<path d="M800.5 323.7 C802.4 326.1 808.5 332.2 812.0 338.0 C815.5 343.8 820.1 355.2 821.7 358.7" stroke-width="0.9" stroke-dasharray="4.8 3"/>
<path d="M803.0 327.0 C806.8 330.8 819.0 345.0 826.0 350.0 C833.0 355.0 841.8 355.8 845.0 357.0" stroke-width="0.9" stroke-dasharray="4.8 3"/>
<path d="M770.0 385.0 C774.6 383.8 790.8 378.3 797.5 377.5 C804.2 376.7 803.6 377.1 810.0 380.0 C816.4 382.9 822.7 387.5 835.7 395.0 C848.7 402.5 879.1 418.8 888.0 425.0 C896.9 431.2 891.1 429.7 889.0 432.0 C886.9 434.3 877.8 437.6 875.5 438.7" stroke-width="0.9" stroke-dasharray="4.8 3"/>
<path d="M775.0 389.0 C778.5 387.9 790.5 383.2 796.0 382.5 C801.5 381.8 801.5 382.0 808.0 385.0 C814.5 388.0 822.9 393.4 835.0 400.5 C847.1 407.6 873.2 422.1 880.5 427.5 C887.8 432.9 879.2 432.1 879.0 433.0" stroke-width="0.9" stroke-dasharray="4.8 3"/>
<path d="M770.0 385.0 C768.8 388.3 764.7 398.8 763.0 405.0 C761.3 411.2 758.8 417.9 760.0 422.5 C761.2 427.1 765.4 429.8 770.0 432.5 C774.6 435.2 784.6 437.7 787.5 438.7" stroke-width="0.9" stroke-dasharray="4.8 3"/>
<path d="M774.0 389.0 C772.8 391.8 768.7 400.7 767.0 406.0 C765.3 411.3 763.2 417.1 764.0 421.0 C764.8 424.9 770.7 428.1 772.0 429.5" stroke-width="0.9" stroke-dasharray="4.8 3"/>
<path d="M787.5 438.7 L875.5 438.7" stroke-width="1.3" stroke-dasharray="12 3"/>
<path d="M727 395.5 A15 8.5 10 0 0 716 409.5" stroke-dasharray="5 2.5" fill="none"/>
<path d="M712 408.5 A13 7 10 0 0 733 406" stroke-dasharray="4 2.5" fill="none"/>
<path d="M828 453 A15 8.5 10 0 0 817 467" stroke-dasharray="5 2.5" fill="none"/>
<path d="M812 466.5 A13 7 10 0 0 834.2 466.2" stroke-dasharray="4 2.5" fill="none"/>
</g>
<g stroke="#111" stroke-width="1.1" fill="#fff">
<ellipse cx="721.3" cy="402.5" rx="3.8" ry="2.1"/>
<ellipse cx="756.7" cy="388.3" rx="3.8" ry="2.1"/>
<ellipse cx="823" cy="460" rx="3.8" ry="2.1"/>
<ellipse cx="853" cy="448.7" rx="3.8" ry="2.1"/>
</g>
<g id="dbracket" stroke="#222" stroke-linecap="butt">
<path d="M698.7 532.5 L705.0 523.7 L732.5 540.0 L732.5 551.2 L703.7 568.7 L698.7 567.5 Z" stroke-width="1.35" stroke-dasharray="9 2.5 2.5 2.5"/>
<path d="M702.0 533.0 L702.0 566.0" stroke-width="0.8" stroke-dasharray="6 3"/>
<path d="M705.0 523.7 C712.9 520.2 743.0 505.9 752.5 502.5 C762.0 499.1 759.5 502.7 762.0 503.5 C764.5 504.3 766.0 505.6 767.5 507.5 C769.0 509.4 772.9 509.2 771.2 515.0 C769.5 520.8 760.0 536.2 757.5 542.5 C755.0 548.8 754.5 549.2 756.2 552.5 C757.9 555.8 761.9 560.0 767.5 562.5 C773.1 565.0 780.4 567.0 790.0 567.5 C799.6 568.0 813.8 566.3 825.0 565.5 C836.2 564.7 849.6 560.9 857.5 562.5 C865.4 564.1 870.0 572.9 872.5 575.0" stroke-width="1.5" stroke-dasharray="9 2.5 2.5 2.5"/>
<path d="M768.5 519.0 C766.3 523.2 757.8 538.3 755.5 544.0 C753.2 549.7 754.7 551.5 754.5 553.0" stroke-width="0.8" stroke-dasharray="6 3"/>
<path d="M732.5 552.5 C734.6 555.4 739.2 565.8 745.0 570.0 C750.8 574.2 759.6 576.0 767.5 577.5 C775.4 579.0 785.4 577.0 792.5 578.7 C799.6 580.4 804.6 584.4 810.0 587.5 C815.4 590.6 822.5 595.8 825.0 597.5" stroke-width="1.5" stroke-dasharray="9 2.5 2.5 2.5"/>
<path d="M825.0 597.5 L872.5 576.2" stroke-width="1.3" stroke-dasharray="9 2.5 2.5 2.5"/>
<path d="M826.0 601.0 L868.0 581.5" stroke-width="0.8" stroke-dasharray="7 3"/>
<path d="M815.0 605.0 L815.0 637.5 L825.0 640.0 L872.5 612.5 L872.5 576.2" stroke-width="1.0" stroke-dasharray="9 2.5 2.5 2.5"/>
<path d="M815.0 605.0 C815.5 605.6 816.2 608.3 818.0 608.5 C819.8 608.7 824.2 607.4 826.0 606.0 C827.8 604.6 828.1 601.0 828.5 600.0" stroke-width="1.3" />
<path d="M819.0 608.0 L819.0 638.0" stroke-width="0.7" stroke-dasharray="6 3"/>
<path d="M824.0 607.0 L824.0 639.0" stroke-width="0.7" stroke-dasharray="6 3"/>
<ellipse cx="757.5" cy="509.5" rx="3.5" ry="2" stroke-width="0.8"/><ellipse cx="722.5" cy="527.5" rx="3.5" ry="2" stroke-width="0.8"/>
<ellipse cx="822" cy="588" rx="3.5" ry="2" stroke-width="0.8"/><ellipse cx="856" cy="570" rx="3.8" ry="2.2" stroke-width="1"/>
<path d="M842.0 586.0 L850.0 592.0 L846.0 583.0 L848.0 594.0" stroke-width="0.9" />
<path d="M721.2 480.0 L721.2 607.0" stroke-width="0.8" />
<path d="M756.5 497.5 L756.5 510.0" stroke-width="0.8" />
<path d="M756.2 575.0 L756.2 590.0" stroke-width="0.8" />
<path d="M821.2 542.5 L821.2 587.5" stroke-width="0.8" stroke-dasharray="20 3"/>
<path d="M821.2 640.0 L821.2 655.0" stroke-width="0.8" />
<path d="M855.5 546.0 L855.5 565.0" stroke-width="0.8" />
<path d="M855.5 625.0 L855.5 645.0" stroke-width="0.8" />
</g>
<g stroke="#222" stroke-linecap="butt">
<path d="M722.0 282.0 L722.0 402.0" stroke-width="1.5" stroke-dasharray="40 2 4 2"/>
<path d="M756.2 251.0 L756.2 387.5" stroke-width="1.5" stroke-dasharray="40 2 4 2"/>
<path d="M823.4 335.0 L823.4 459.5" stroke-width="1.5" stroke-dasharray="40 2 4 2"/>
<path d="M853.0 327.5 L853.0 448.0" stroke-width="1.5" stroke-dasharray="40 2 4 2"/>
<path d="M722.0 186.5 L722.0 215.0" stroke-width="1.6" />
<path d="M823.7 239.0 L823.7 270.0" stroke-width="1.6" />
</g>
<g stroke="#444" stroke-width="0.8" fill="none"><path d="M705.8000000000001 210.00 V274.80 A15.3 6.5 0 0 0 736.4 274.80 V210.00 A15.3 6.5 0 0 0 705.8000000000001 210.00 Z" fill="#fff" stroke="none"/><ellipse cx="721.1" cy="210.00" rx="15.3" ry="6.5"/><ellipse cx="721.1" cy="210.40" rx="12.100000000000001" ry="4.5"/><path d="M709.4000000000001 212.60 A11.9 4.5 0 0 0 732.8 212.60" stroke-width="0.7"/><path d="M711.3000000000001 214.30 A10.3 3.9 0 0 0 730.9 214.30" stroke-width="0.7"/><ellipse cx="721.1" cy="210.90" rx="9.100000000000001" ry="2.9" stroke-width="0.7"/><path d="M705.8000000000001 215.89 A15.3 6.5 0 0 0 736.4 215.89"/><path d="M705.8000000000001 213.19 A15.3 6.5 0 0 0 736.4 213.19"/><path d="M705.8000000000001 221.78 A15.3 6.5 0 0 0 736.4 221.78"/><path d="M705.8000000000001 219.08 A15.3 6.5 0 0 0 736.4 219.08"/><path d="M718.9 224.98 H723.3000000000001" stroke="#111" stroke-width="1.3"/><path d="M705.8000000000001 227.67 A15.3 6.5 0 0 0 736.4 227.67"/><path d="M705.8000000000001 224.97 A15.3 6.5 0 0 0 736.4 224.97"/><path d="M705.8000000000001 233.56 A15.3 6.5 0 0 0 736.4 233.56"/><path d="M705.8000000000001 230.86 A15.3 6.5 0 0 0 736.4 230.86"/><path d="M718.9 236.76 H723.3000000000001" stroke="#111" stroke-width="1.3"/><path d="M705.8000000000001 239.45 A15.3 6.5 0 0 0 736.4 239.45"/><path d="M705.8000000000001 236.75 A15.3 6.5 0 0 0 736.4 236.75"/><path d="M705.8000000000001 245.35 A15.3 6.5 0 0 0 736.4 245.35"/><path d="M705.8000000000001 242.65 A15.3 6.5 0 0 0 736.4 242.65"/><path d="M718.9 248.55 H723.3000000000001" stroke="#111" stroke-width="1.3"/><path d="M705.8000000000001 251.24 A15.3 6.5 0 0 0 736.4 251.24"/><path d="M705.8000000000001 248.54 A15.3 6.5 0 0 0 736.4 248.54"/><path d="M705.8000000000001 257.13 A15.3 6.5 0 0 0 736.4 257.13"/><path d="M705.8000000000001 254.43 A15.3 6.5 0 0 0 736.4 254.43"/><path d="M718.9 260.33 H723.3000000000001" stroke="#111" stroke-width="1.3"/><path d="M705.8000000000001 263.02 A15.3 6.5 0 0 0 736.4 263.02"/><path d="M705.8000000000001 260.32 A15.3 6.5 0 0 0 736.4 260.32"/><path d="M705.8000000000001 268.91 A15.3 6.5 0 0 0 736.4 268.91"/><path d="M705.8000000000001 266.21 A15.3 6.5 0 0 0 736.4 266.21"/><path d="M718.9 272.11 H723.3000000000001" stroke="#111" stroke-width="1.3"/><path d="M705.8000000000001 274.80 A15.3 6.5 0 0 0 736.4 274.80"/><path d="M705.8000000000001 272.10 A15.3 6.5 0 0 0 736.4 272.10"/><path d="M705.8000000000001 210.00 V274.80 M736.4 210.00 V274.80"/></g>
<g stroke="#444" stroke-width="0.8" fill="none"><path d="M807.5 264.00 V329.00 A15.8 6.5 0 0 0 839.0999999999999 329.00 V264.00 A15.8 6.5 0 0 0 807.5 264.00 Z" fill="#fff" stroke="none"/><ellipse cx="823.3" cy="264.00" rx="15.8" ry="6.5"/><ellipse cx="823.3" cy="264.40" rx="12.600000000000001" ry="4.5"/><path d="M811.1 266.60 A12.4 4.5 0 0 0 835.4999999999999 266.60" stroke-width="0.7"/><path d="M813.0 268.30 A10.8 3.9 0 0 0 833.5999999999999 268.30" stroke-width="0.7"/><ellipse cx="823.3" cy="264.90" rx="9.600000000000001" ry="2.9" stroke-width="0.7"/><path d="M807.5 269.91 A15.8 6.5 0 0 0 839.0999999999999 269.91"/><path d="M807.5 267.21 A15.8 6.5 0 0 0 839.0999999999999 267.21"/><path d="M807.5 275.82 A15.8 6.5 0 0 0 839.0999999999999 275.82"/><path d="M807.5 273.12 A15.8 6.5 0 0 0 839.0999999999999 273.12"/><path d="M821.0999999999999 279.02 H825.5" stroke="#111" stroke-width="1.3"/><path d="M807.5 281.73 A15.8 6.5 0 0 0 839.0999999999999 281.73"/><path d="M807.5 279.03 A15.8 6.5 0 0 0 839.0999999999999 279.03"/><path d="M807.5 287.64 A15.8 6.5 0 0 0 839.0999999999999 287.64"/><path d="M807.5 284.94 A15.8 6.5 0 0 0 839.0999999999999 284.94"/><path d="M821.0999999999999 290.84 H825.5" stroke="#111" stroke-width="1.3"/><path d="M807.5 293.55 A15.8 6.5 0 0 0 839.0999999999999 293.55"/><path d="M807.5 290.85 A15.8 6.5 0 0 0 839.0999999999999 290.85"/><path d="M807.5 299.45 A15.8 6.5 0 0 0 839.0999999999999 299.45"/><path d="M807.5 296.75 A15.8 6.5 0 0 0 839.0999999999999 296.75"/><path d="M821.0999999999999 302.65 H825.5" stroke="#111" stroke-width="1.3"/><path d="M807.5 305.36 A15.8 6.5 0 0 0 839.0999999999999 305.36"/><path d="M807.5 302.66 A15.8 6.5 0 0 0 839.0999999999999 302.66"/><path d="M807.5 311.27 A15.8 6.5 0 0 0 839.0999999999999 311.27"/><path d="M807.5 308.57 A15.8 6.5 0 0 0 839.0999999999999 308.57"/><path d="M821.0999999999999 314.47 H825.5" stroke="#111" stroke-width="1.3"/><path d="M807.5 317.18 A15.8 6.5 0 0 0 839.0999999999999 317.18"/><path d="M807.5 314.48 A15.8 6.5 0 0 0 839.0999999999999 314.48"/><path d="M807.5 323.09 A15.8 6.5 0 0 0 839.0999999999999 323.09"/><path d="M807.5 320.39 A15.8 6.5 0 0 0 839.0999999999999 320.39"/><path d="M821.0999999999999 326.29 H825.5" stroke="#111" stroke-width="1.3"/><path d="M807.5 329.00 A15.8 6.5 0 0 0 839.0999999999999 329.00"/><path d="M807.5 326.30 A15.8 6.5 0 0 0 839.0999999999999 326.30"/><path d="M807.5 264.00 V329.00 M839.0999999999999 264.00 V329.00"/></g>
<g stroke="#222" stroke-linecap="butt">
<path d="M722.0 200.0 L722.0 215.0" stroke-width="1.6" />
<path d="M823.7 255.0 L823.7 270.0" stroke-width="1.6" />
</g>
<g stroke="#111" stroke-width="1" fill="#fff"><path d="M718.4 164.5 L718.1 183.5 L720.5 186.5 L725 185.5 L725.8 164.5 Z"/><path d="M718.3 169.7 L725.6 167.9" stroke-width="0.8"/><path d="M718.3 172.9 L725.6 171.1" stroke-width="0.8"/><path d="M718.3 176.1 L725.6 174.3" stroke-width="0.8"/><path d="M718.3 179.3 L725.6 177.5" stroke-width="0.8"/><path d="M718.3 182.5 L725.6 180.7" stroke-width="0.8"/><path d="M720.5 186.0 L724.5 174.5" stroke-width="1"/><ellipse cx="722" cy="161.1" rx="11.6" ry="4.6" stroke-width="1.5"/><ellipse cx="722" cy="159.7" rx="10.4" ry="3.9" stroke-width="0.9"/><path d="M713.7 151.5 L714.4 159.5 Q722 164.0 729.6 159.5 L730.3 151.5 Z"/><ellipse cx="722" cy="151.5" rx="8.3" ry="4"/><path d="M718 155.1 L718.4 161.8 M726.4 154.9 L726.2 161.7" stroke-width="0.8"/></g>
<g stroke="#111" stroke-width="1" fill="#fff"><path d="M752.1 225 L751.8000000000001 244 L754.2 247 L758.7 246 L759.5 225 Z"/><path d="M752.0 230.2 L759.3000000000001 228.4" stroke-width="0.8"/><path d="M752.0 233.4 L759.3000000000001 231.6" stroke-width="0.8"/><path d="M752.0 236.6 L759.3000000000001 234.8" stroke-width="0.8"/><path d="M752.0 239.8 L759.3000000000001 238.0" stroke-width="0.8"/><path d="M752.0 243.0 L759.3000000000001 241.2" stroke-width="0.8"/><path d="M754.2 246.5 L758.2 235" stroke-width="1"/><ellipse cx="755.7" cy="221.6" rx="11.6" ry="4.6" stroke-width="1.5"/><ellipse cx="755.7" cy="220.2" rx="10.4" ry="3.9" stroke-width="0.9"/><path d="M747.4000000000001 212 L748.1 220 Q755.7 224.5 763.3000000000001 220 L764.0 212 Z"/><ellipse cx="755.7" cy="212" rx="8.3" ry="4"/><path d="M751.7 215.6 L752.1 222.3 M760.1 215.4 L759.9000000000001 222.2" stroke-width="0.8"/></g>
<g stroke="#111" stroke-width="1" fill="#fff"><path d="M820.1 215.7 L819.8000000000001 234.7 L822.2 237.7 L826.7 236.7 L827.5 215.7 Z"/><path d="M820.0 220.9 L827.3000000000001 219.1" stroke-width="0.8"/><path d="M820.0 224.1 L827.3000000000001 222.3" stroke-width="0.8"/><path d="M820.0 227.3 L827.3000000000001 225.5" stroke-width="0.8"/><path d="M820.0 230.5 L827.3000000000001 228.7" stroke-width="0.8"/><path d="M820.0 233.7 L827.3000000000001 231.9" stroke-width="0.8"/><path d="M822.2 237.2 L826.2 225.7" stroke-width="1"/><ellipse cx="823.7" cy="212.29999999999998" rx="11.6" ry="4.6" stroke-width="1.5"/><ellipse cx="823.7" cy="210.89999999999998" rx="10.4" ry="3.9" stroke-width="0.9"/><path d="M815.4000000000001 202.7 L816.1 210.7 Q823.7 215.2 831.3000000000001 210.7 L832.0 202.7 Z"/><ellipse cx="823.7" cy="202.7" rx="8.3" ry="4"/><path d="M819.7 206.29999999999998 L820.1 213.0 M828.1 206.1 L827.9000000000001 212.89999999999998" stroke-width="0.8"/></g>
<g stroke="#111" stroke-width="1" fill="#fff"><path d="M849.1 303.2 L848.8000000000001 322.2 L851.2 325.2 L855.7 324.2 L856.5 303.2 Z"/><path d="M849.0 308.4 L856.3000000000001 306.6" stroke-width="0.8"/><path d="M849.0 311.6 L856.3000000000001 309.8" stroke-width="0.8"/><path d="M849.0 314.8 L856.3000000000001 313.0" stroke-width="0.8"/><path d="M849.0 318.0 L856.3000000000001 316.2" stroke-width="0.8"/><path d="M849.0 321.2 L856.3000000000001 319.4" stroke-width="0.8"/><path d="M851.2 324.7 L855.2 313.2" stroke-width="1"/><ellipse cx="852.7" cy="299.8" rx="11.6" ry="4.6" stroke-width="1.5"/><ellipse cx="852.7" cy="298.4" rx="10.4" ry="3.9" stroke-width="0.9"/><path d="M844.4000000000001 290.2 L845.1 298.2 Q852.7 302.7 860.3000000000001 298.2 L861.0 290.2 Z"/><ellipse cx="852.7" cy="290.2" rx="8.3" ry="4"/><path d="M848.7 293.8 L849.1 300.5 M857.1 293.59999999999997 L856.9000000000001 300.4" stroke-width="0.8"/></g>
<g stroke="#6c6c6c" stroke-width="0.95" stroke-linecap="butt">
<path d="M577.0 573.5 L577.0 806.0" stroke-width="0.9" stroke-dasharray="29 5"/>
<path d="M683.8 705.0 L683.8 861.0" stroke-width="0.9" stroke-dasharray="29 5"/>
<path d="M571.8 650.0 L625.5 620.8" stroke-width="0.9" stroke-dasharray="14 3"/>
<path d="M625.5 620.8 L642.1 628.6" stroke-width="0.7" />
<path d="M663.0 640.0 L670.0 643.5" stroke-width="0.7" />
<path d="M706.9 727.1 L760.6 696.9" stroke-width="0.9" stroke-dasharray="14 3"/>
<path d="M760.6 696.9 L749.8 691.0" stroke-width="0.7" />
<path d="M719.6 673.4 L729.3 678.9" stroke-width="0.7" />
<path d="M728.4 741.4 L741.0 748.5" stroke-width="0.9" stroke-dasharray="6 3"/>
<path d="M543.5 633.5 L550.3 636.4" stroke-width="0.8" />
</g>
<g id="bracket2" stroke="#1a1a1a" stroke-width="1" fill="#fff">
<path d="M536.6 695.0 C535.5 694.0 531.1 691.1 529.8 689.1 C528.5 687.1 528.0 686.9 528.8 683.3 C529.6 679.7 532.1 673.6 534.7 667.7 C537.3 661.8 541.1 654.0 544.5 648.1 C547.9 642.2 552.0 635.8 555.2 632.5 C558.5 629.2 561.6 628.6 564.0 628.6 C566.4 628.6 568.6 630.9 569.8 632.5 C571.0 634.1 571.5 635.8 571.4 638.4 C571.2 641.0 570.1 644.9 568.9 648.1 C567.7 651.4 564.9 654.1 564.0 657.9 C563.1 661.6 563.7 668.5 563.6 670.6 L703.1 750.7 L692.7 784.7 Z" fill="#fff" stroke="none"/>
<path d="M536.6 695.0 C535.5 694.0 531.1 691.1 529.8 689.1 C528.5 687.1 528.0 686.9 528.8 683.3 C529.6 679.7 532.1 673.6 534.7 667.7 C537.3 661.8 541.1 654.0 544.5 648.1 C547.9 642.2 552.0 635.8 555.2 632.5 C558.5 629.2 561.6 628.6 564.0 628.6 C566.4 628.6 568.6 630.9 569.8 632.5 C571.0 634.1 571.5 635.8 571.4 638.4 C571.2 641.0 570.1 644.9 568.9 648.1 C567.7 651.4 564.9 654.1 564.0 657.9 C563.1 661.6 563.7 668.5 563.6 670.6" stroke-width="1.1" fill="none"/>
<path d="M563.6 670.6 L703.1 750.7" stroke-width="0.9" />
<path d="M536.6 695.0 L692.7 784.7" stroke-width="1.1" />
<path d="M557.1 634.5 C555.5 636.8 550.6 642.6 547.4 648.1 C544.1 653.6 540.1 661.8 537.6 667.7 C535.1 673.6 533.1 680.0 532.3 683.3 C531.5 686.5 531.7 685.8 532.7 687.2 C533.8 688.7 537.6 691.2 538.6 692.0 L696 781.9" stroke-width="0.9" fill="none"/>
<path d="M532.7 687.2 L539.5 683.6" stroke-width="0.9" />
<path d="M556.5 674.4 L563.6 670.6" stroke-width="0.9" />
<path d="M698.4 762.5 L694.1 763.0 L694.1 765.3 L698.0 765.3" stroke-width="0.9" fill="none"/>
<path d="M692.7 784.7 C692.6 783.3 693.2 780.5 694.6 776.2 C696.0 772.0 699.0 764.7 701.2 759.2 C703.4 753.7 705.6 747.5 707.8 743.1 C710.0 738.7 712.3 735.3 714.5 732.7 C716.7 730.1 718.7 728.9 721.1 727.5 C723.5 726.1 726.5 724.4 728.7 724.2 C730.9 724.1 732.9 725.3 734.3 726.6 C735.7 727.9 736.8 729.8 737.2 731.8 C737.6 733.8 737.5 736.0 736.7 738.4 C735.9 740.8 733.5 743.6 732.4 746.0 C731.3 748.4 730.5 750.6 730.1 752.6 C729.7 754.6 729.9 756.1 729.8 758.0 C729.7 759.9 730.3 762.3 729.6 763.9 C728.9 765.5 727.4 766.6 725.8 767.7 C724.2 768.8 721.4 770.8 720.1 770.5 C718.8 770.2 719.1 767.2 718.2 765.8 C717.3 764.4 715.9 762.2 714.5 762.0 C713.1 761.8 710.9 763.3 709.7 764.4 C708.5 765.5 708.0 766.7 707.4 768.7 C706.8 770.7 706.9 774.3 706.0 776.2 C705.1 778.1 704.0 778.6 702.2 780.0 C700.5 781.4 697.1 783.9 695.5 784.7 C693.9 785.5 692.9 786.1 692.7 784.7 Z" stroke-width="1.1" />
<path d="M696.0 781.9 C696.2 780.8 696.2 778.9 697.4 775.3 C698.6 771.7 701.0 765.3 703.1 760.1 C705.2 754.9 707.5 748.5 709.7 744.1 C711.9 739.7 714.2 736.2 716.4 733.7 C718.6 731.2 720.6 730.2 723.0 728.9 C725.4 727.6 729.2 726.6 730.5 726.1" stroke-width="0.9" fill="none"/>
<path d="M707.4 768.7 C707.8 769.0 708.4 770.0 709.7 770.5 C711.0 771.0 713.7 772.0 715.4 772.0 C717.1 772.0 719.3 770.8 720.1 770.5" stroke-width="0.8" fill="none"/>
<ellipse cx="560.5" cy="644.2" rx="2.7" ry="4.3" transform="rotate(25 560.5 644.2)"/>
<path d="M558.3 646 L562.5 642.3" stroke-width="0.7"/>
<ellipse cx="725.8" cy="739.8" rx="2.8" ry="5" transform="rotate(25 725.8 739.8)"/>
<path d="M723.6 741.8 L728 737.8" stroke-width="0.7"/>
<ellipse cx="577" cy="695" rx="5.4" ry="3.3"/>
<path d="M572.4 696.3 A5 2.8 0 0 1 581.6 696.3" stroke-width="0.7" fill="none"/>
<ellipse cx="599.1" cy="707.7" rx="5.4" ry="3.3"/>
<path d="M594.5 709.0 A5 2.8 0 0 1 603.7 709.0" stroke-width="0.7" fill="none"/>
<ellipse cx="683.4" cy="756.4" rx="5.4" ry="3.3"/>
<path d="M678.8 757.6999999999999 A5 2.8 0 0 1 688.0 757.6999999999999" stroke-width="0.7" fill="none"/>
<path d="M541.0 677.3 C541.5 675.4 543.0 673.0 544.2 671.5 C545.4 670.0 547.0 668.8 548.4 668.4 C549.8 668.0 551.5 668.5 552.6 669.4 C553.7 670.3 554.3 672.4 554.7 673.6 C555.1 674.8 554.6 676.0 555.2 676.8 C555.8 677.6 557.6 677.7 558.4 678.4 C559.1 679.1 559.8 680.0 559.7 681.0 C559.6 682.0 559.3 683.1 557.9 684.1 C556.5 685.1 553.6 686.4 551.5 686.8 C549.4 687.1 547.0 686.9 545.2 686.2 C543.5 685.5 541.7 684.1 541.0 682.6 C540.3 681.1 540.5 679.1 541.0 677.3 Z" stroke-width="1.1" stroke-dasharray="5 2.2" fill="none" stroke="#333"/>
</g>
<g stroke="#6c6c6c" stroke-width="0.95" stroke-linecap="butt">
<path d="M577.0 618.0 L577.0 694.0" stroke-width="0.9" stroke-dasharray="29 5"/>
<path d="M683.8 705.0 L683.8 756.0" stroke-width="0.9" stroke-dasharray="29 5"/>
</g>
<g stroke="#222" stroke-width="1" fill="#fff" transform="translate(577 596.4)"><path d="M-12.4 0.5 L-12.2 9.8 L-6.3 15.6 Q0.5 18.8 7.5 15.7 L12.4 10 L12.4 0.5 Z"/><path d="M-12.2 4.6 L-6.3 8.8 M7.4 8.8 L12.4 4.6 M-6.3 8.8 V15.6 M7.4 8.8 V15.7" stroke-width="0.9" fill="none"/><path d="M-6.3 8.8 L7.4 8.8" stroke-width="1.5" fill="none"/><ellipse cx="0" cy="0" rx="12.3" ry="5.9" stroke="#444" stroke-width="0.9"/><ellipse cx="0" cy="0" rx="6.7" ry="2.9" stroke="#888" stroke-width="1.1"/><path d="M-5 0.9 Q-2.5 2.2 0 0.6 Q2.5 2.2 5 0.9" stroke="#aaa" stroke-width="1.2" fill="none"/></g>
<g stroke="#222" stroke-width="1" fill="#fff" transform="translate(683.8 685.5)"><path d="M-12.4 0.5 L-12.2 9.8 L-6.3 15.6 Q0.5 18.8 7.5 15.7 L12.4 10 L12.4 0.5 Z"/><path d="M-12.2 4.6 L-6.3 8.8 M7.4 8.8 L12.4 4.6 M-6.3 8.8 V15.6 M7.4 8.8 V15.7" stroke-width="0.9" fill="none"/><path d="M-6.3 8.8 L7.4 8.8" stroke-width="1.5" fill="none"/><ellipse cx="0" cy="0" rx="12.3" ry="5.9" stroke="#444" stroke-width="0.9"/><ellipse cx="0" cy="0" rx="6.7" ry="2.9" stroke="#888" stroke-width="1.1"/><path d="M-5 0.9 Q-2.5 2.2 0 0.6 Q2.5 2.2 5 0.9" stroke="#aaa" stroke-width="1.2" fill="none"/></g>
<g stroke="#1a1a1a" stroke-width="1.1" fill="#fff" transform="translate(651.5 633.5)"><path d="M-11.5 0.9 L-9.3 -5.4 L-2.9 -11.3 L1.0 -13.2 L7.3 -9.8 L10.7 -7.4 L11.4 -1.5 L8.8 4.8 L1.0 12.9 L-2.9 13.1 L-5.9 11.4 L-11.2 7.8 Z"/><path d="M-5.6 4.6 L0.2 -7.4 L7.3 -9.8 L10.7 -7.4 L11.4 -1.5 L8.8 4.8 L1 12.9 L-2.9 13.1 L-5.6 11.4 Z" stroke-width="1"/><path d="M-2.9 -11.3 L0.2 -7.4 M-11.5 0.9 L-5.6 4.6" stroke-width="1"/><ellipse cx="3.4" cy="1.9" rx="3.2" ry="6.2" transform="rotate(30 3.4 1.9)" stroke-width="1.3"/><path d="M1.6 -0.5 L6.3 -1.2 M0.8 2.6 L5.8 1.6 M0.8 5.4 L4.2 4.6" stroke-width="0.7" stroke="#444"/></g>
<g stroke="#1a1a1a" stroke-width="1.1" fill="#fff" transform="translate(740.2 684.6)"><path d="M-11.5 0.9 L-9.3 -5.4 L-2.9 -11.3 L1.0 -13.2 L7.3 -9.8 L10.7 -7.4 L11.4 -1.5 L8.8 4.8 L1.0 12.9 L-2.9 13.1 L-5.9 11.4 L-11.2 7.8 Z"/><path d="M-5.6 4.6 L0.2 -7.4 L7.3 -9.8 L10.7 -7.4 L11.4 -1.5 L8.8 4.8 L1 12.9 L-2.9 13.1 L-5.6 11.4 Z" stroke-width="1"/><path d="M-2.9 -11.3 L0.2 -7.4 M-11.5 0.9 L-5.6 4.6" stroke-width="1"/><ellipse cx="3.4" cy="1.9" rx="3.2" ry="6.2" transform="rotate(30 3.4 1.9)" stroke-width="1.3"/><path d="M1.6 -0.5 L6.3 -1.2 M0.8 2.6 L5.8 1.6 M0.8 5.4 L4.2 4.6" stroke-width="0.7" stroke="#444"/></g>
<g stroke="#222" stroke-width="0.95" fill="#fff" transform="translate(505.6 612.0) rotate(26.6)"><path d="M-2 -10.6 L-8.5 -10.6 Q-12.8 -8 -13 0 Q-12.8 8 -8.5 10.6 L-2 10.6 Z"/><path d="M-11.5 -5.8 L-3 -5.8 M-12.3 4.6 L-3 4.6" stroke-width="0.8"/><path d="M-8.5 -10.6 Q-5.8 -3 -8.5 10.6" stroke-width="0.7" fill="none"/><ellipse cx="-2.2" cy="0" rx="5.63" ry="13.4"/><ellipse cx="-0.6" cy="0" rx="5.63" ry="13.4"/><ellipse cx="0.6" cy="0" rx="4.70" ry="11.2" stroke-width="0.8"/><path d="M1 -8.4 L13.5 -8.4 L13.5 8.4 L1 8.4 A3.53 8.4 0 0 0 1 -8.4 Z" /><ellipse cx="13.5" cy="0" rx="3.53" ry="8.4"/><ellipse cx="14.3" cy="0" rx="3.02" ry="7.2" stroke-width="0.8"/><path d="M15 -6 L40.5 -6 L40.5 6 L15 6 A2.52 6 0 0 0 15 -6 Z"/><path d="M18.00 -6.00 A2.52 6.00 0 0 0 18.00 6.00" fill="none" stroke-width="0.85"/><path d="M20.75 -6.00 A2.52 6.00 0 0 0 20.75 6.00" fill="none" stroke-width="0.85"/><path d="M23.50 -6.00 A2.52 6.00 0 0 0 23.50 6.00" fill="none" stroke-width="0.85"/><path d="M26.25 -6.00 A2.52 6.00 0 0 0 26.25 6.00" fill="none" stroke-width="0.85"/><path d="M29.00 -6.00 A2.52 6.00 0 0 0 29.00 6.00" fill="none" stroke-width="0.85"/><path d="M31.75 -6.00 A2.52 6.00 0 0 0 31.75 6.00" fill="none" stroke-width="0.85"/><path d="M34.50 -6.00 A2.52 6.00 0 0 0 34.50 6.00" fill="none" stroke-width="0.85"/><path d="M37.25 -6.00 A2.52 6.00 0 0 0 37.25 6.00" fill="none" stroke-width="0.85"/><ellipse cx="40.5" cy="0" rx="2.52" ry="6"/></g>
<g stroke="#222" stroke-width="0.95" fill="#fff" transform="translate(775.8 770.6) rotate(30)"><path d="M-15 -6 L-35.3 -6 A2.52 6 0 0 0 -35.3 6 L-15 6 Z"/><path d="M-32.50 -6.00 A2.52 6.00 0 0 0 -32.50 6.00" fill="none" stroke-width="0.9"/><path d="M-29.60 -6.00 A2.52 6.00 0 0 0 -29.60 6.00" fill="none" stroke-width="0.9"/><path d="M-26.70 -6.00 A2.52 6.00 0 0 0 -26.70 6.00" fill="none" stroke-width="0.9"/><path d="M-23.80 -6.00 A2.52 6.00 0 0 0 -23.80 6.00" fill="none" stroke-width="0.9"/><path d="M-20.90 -6.00 A2.52 6.00 0 0 0 -20.90 6.00" fill="none" stroke-width="0.9"/><path d="M-18.00 -6.00 A2.52 6.00 0 0 0 -18.00 6.00" fill="none" stroke-width="0.9"/><path d="M-1 -8.5 L-15 -8.5 A3.57 8.5 0 0 0 -15 8.5 L-1 8.5 Z"/><ellipse cx="-1.6" cy="0" rx="5.54" ry="13.2"/><ellipse cx="-0.2" cy="0" rx="5.54" ry="13.2"/><ellipse cx="1.2" cy="0" rx="5.21" ry="12.4"/><path d="M2 -11.2 L15 -11.2 L15 11.2 L2 11.2 A4.70 11.2 0 0 1 2 -11.2 Z"/><path d="M3.5 -5.6 L11.5 -5.6 M5.5 5.6 L11.5 5.6" stroke-width="0.9"/><path d="M15 -11.2 Q20 -11 20.9 -5.4 L21.1 4.9 Q20 11 15 11.2 Q11 10.2 10.6 5.2 L10.4 -5.4 Q11.2 -10.6 15 -11.2 Z"/></g>
<g id="plate3" stroke="#1a1a1a" stroke-width="1" fill="#fff">
<path d="M535.2 827.1 L535.2 830.0 L691.2 921.3 L727.5 900.0 L727.5 897.0" stroke-width="1.0" />
<path d="M535.2 827.1 L570.6 806.6 L727.5 897.0 L691.2 918.5 Z" stroke-width="1.0" />
<ellipse cx="599.2" cy="844.2" rx="5.4" ry="3.1"/>
<path d="M594.6 845.4 A5 2.6 0 0 1 603.8 845.4" stroke-width="0.7" fill="none"/>
<path d="M568.3 804.8 V834.2 A8.7 4.3 0 0 0 585.7 834.2 V804.8 Z"/><path d="M568.3 808.5 A8.7 4.3 0 0 0 585.7 808.5" stroke-width="0.8" fill="none" stroke="#444"/><path d="M568.3 812.1 A8.7 4.3 0 0 0 585.7 812.1" stroke-width="0.8" fill="none" stroke="#444"/><path d="M568.3 815.8 A8.7 4.3 0 0 0 585.7 815.8" stroke-width="0.8" fill="none" stroke="#444"/><path d="M568.3 819.5 A8.7 4.3 0 0 0 585.7 819.5" stroke-width="0.8" fill="none" stroke="#444"/><path d="M568.3 823.2 A8.7 4.3 0 0 0 585.7 823.2" stroke-width="0.8" fill="none" stroke="#444"/><path d="M568.3 826.8 A8.7 4.3 0 0 0 585.7 826.8" stroke-width="0.8" fill="none" stroke="#444"/><path d="M568.3 830.5 A8.7 4.3 0 0 0 585.7 830.5" stroke-width="0.8" fill="none" stroke="#444"/><ellipse cx="577" cy="804.8" rx="8.7" ry="4.3"/>
<path d="M674.8 865.8 V895.7 A8.7 4.3 0 0 0 692.2 895.7 V865.8 Z"/><path d="M674.8 869.5 A8.7 4.3 0 0 0 692.2 869.5" stroke-width="0.8" fill="none" stroke="#444"/><path d="M674.8 873.3 A8.7 4.3 0 0 0 692.2 873.3" stroke-width="0.8" fill="none" stroke="#444"/><path d="M674.8 877.0 A8.7 4.3 0 0 0 692.2 877.0" stroke-width="0.8" fill="none" stroke="#444"/><path d="M674.8 880.8 A8.7 4.3 0 0 0 692.2 880.8" stroke-width="0.8" fill="none" stroke="#444"/><path d="M674.8 884.5 A8.7 4.3 0 0 0 692.2 884.5" stroke-width="0.8" fill="none" stroke="#444"/><path d="M674.8 888.2 A8.7 4.3 0 0 0 692.2 888.2" stroke-width="0.8" fill="none" stroke="#444"/><path d="M674.8 892.0 A8.7 4.3 0 0 0 692.2 892.0" stroke-width="0.8" fill="none" stroke="#444"/><ellipse cx="683.5" cy="865.8" rx="8.7" ry="4.3"/>
</g>
<g stroke="#6c6c6c" stroke-width="0.95" stroke-linecap="butt">
<path d="M577.0 790.0 L577.0 806.0" stroke-width="0.9" />
<path d="M683.8 850.0 L683.8 867.0" stroke-width="0.9" />
</g>
<g id="leaders" stroke="#222" stroke-width="0.9">
<path d="M510.2 120.7 L543.5 98.7"/>
<path d="M523 331.4 L556 308.7"/>
<path d="M515.3 375 L550.5 351"/>
<path d="M517.5 488.7 L551.2 465"/>
<path d="M515.5 599.5 L586.2 538"/>
<path d="M588 593.7 L622 570"/>
<path d="M658.7 622.5 L673.7 597.5"/>
<path d="M693.7 679.5 L713.7 650"/>
<path d="M613.7 697 L652.5 673.7"/>
<path d="M749.5 675 L768.7 645"/>
<path d="M787.5 760 L823.7 736.2"/>
<path d="M721.2 892.5 L756.2 868.7"/>
<path d="M376.6 683.6 L412.8 693"/>
<path d="M392.2 721 L430 729.7"/>
<path d="M669.5 135.7 L713.7 150"/>
<path d="M813 150 L761.2 208.7"/>
<path d="M864.5 157 L828.7 198.7"/>
<path d="M665 214.5 L705.5 227"/>
<path d="M889.7 202.5 L838.7 261.7"/>
<path d="M906.7 243.7 L861 288"/>
</g>
<path d="M549.90 98.50 L547.31 98.50 L547.31 87.63 L544.00 87.63 L544.00 86.18 Q546.59 85.87 548.04 84.01 L549.90 84.01 Z" fill="#000" stroke="none"/>
<text x="553.76" y="308.20" font-size="19.8" style="stroke:#000;stroke-width:0.6;stroke-linejoin:round">4</text>
<path d="M572.60 308.50 L570.01 308.50 L570.01 297.63 L566.70 297.63 L566.70 296.18 Q569.29 295.87 570.74 294.01 L572.60 294.01 Z" fill="#000" stroke="none"/>
<text x="549.56" y="348.80" font-size="19.8" style="stroke:#000;stroke-width:0.6;stroke-linejoin:round">4</text>
<text x="559.71" y="348.80" font-size="19.8" style="stroke:#000;stroke-width:0.6;stroke-linejoin:round">0</text>
<path d="M556.80 464.80 L554.21 464.80 L554.21 453.93 L550.90 453.93 L550.90 452.48 Q553.49 452.17 554.94 450.31 L556.80 450.31 Z" fill="#000" stroke="none"/>
<text x="559.71" y="464.50" font-size="19.8" style="stroke:#000;stroke-width:0.6;stroke-linejoin:round">0</text>
<text x="628.31" y="574.60" font-size="19.8" style="stroke:#000;stroke-width:0.6;stroke-linejoin:round">6</text>
<text x="713.11" y="647.70" font-size="19.8" style="stroke:#000;stroke-width:0.6;stroke-linejoin:round">6</text>
<text x="766.33" y="864.82" font-size="19.5" style="stroke:#000;stroke-width:0.95;stroke-linejoin:round">3</text>
<text x="589.89" y="534.09" font-size="20.45" style="stroke:#000;stroke-width:1.03;stroke-linejoin:round">2</text>
<path d="M610.50 534.60 L607.06 534.60 L607.06 523.59 L603.70 523.59 L603.70 521.52 Q606.79 521.30 608.43 519.34 L610.50 519.34 Z" fill="#000" stroke="none"/>
<text x="827.79" y="738.88" font-size="20.45" style="stroke:#000;stroke-width:1.03;stroke-linejoin:round">2</text>
<path d="M848.40 739.40 L844.96 739.40 L844.96 728.39 L841.60 728.39 L841.60 726.32 Q844.69 726.10 846.33 724.14 L848.40 724.14 Z" fill="#000" stroke="none"/>
<text x="672.13" y="596.10" font-size="20.3" style="stroke:#000;stroke-width:0.8;stroke-linejoin:round">3</text>
<text x="681.74" y="596.10" font-size="20.3" style="stroke:#000;stroke-width:0.8;stroke-linejoin:round">7</text>
<text x="769.43" y="640.80" font-size="20.3" style="stroke:#000;stroke-width:0.8;stroke-linejoin:round">3</text>
<text x="779.44" y="640.80" font-size="20.3" style="stroke:#000;stroke-width:0.8;stroke-linejoin:round">7</text>
<text x="653.38" y="674.00" font-size="20.3" style="stroke:#000;stroke-width:0.8;stroke-linejoin:round">2</text>
<text x="348.39" y="689.95" font-size="20.9" style="stroke:#000;stroke-width:1.3;stroke-linejoin:round">4</text>
<text x="360.59" y="689.95" font-size="20.9" style="stroke:#000;stroke-width:1.3;stroke-linejoin:round">4</text>
<text x="359.69" y="726.55" font-size="20.9" style="stroke:#000;stroke-width:1.3;stroke-linejoin:round">4</text>
<text x="371.06" y="726.55" font-size="20.9" style="stroke:#000;stroke-width:1.3;stroke-linejoin:round">3</text>
<text x="656.16" y="142.39" font-size="20.45" style="stroke:#000;stroke-width:1.03;stroke-linejoin:round">8</text>
<text x="820.36" y="143.09" font-size="20.45" style="stroke:#000;stroke-width:1.03;stroke-linejoin:round">8</text>
<text x="872.86" y="149.89" font-size="20.45" style="stroke:#000;stroke-width:1.03;stroke-linejoin:round">8</text>
<text x="653.45" y="219.39" font-size="20.45" style="stroke:#000;stroke-width:1.03;stroke-linejoin:round">7</text>
<text x="893.85" y="198.09" font-size="20.45" style="stroke:#000;stroke-width:1.03;stroke-linejoin:round">7</text>
<text x="914.86" y="238.09" font-size="20.45" style="stroke:#000;stroke-width:1.03;stroke-linejoin:round">8</text>
<text x="131.2" y="893.8" font-size="13.65" style="fill:#606060">seat-tex_7A-vgt</text>
</svg>
</body></html>
